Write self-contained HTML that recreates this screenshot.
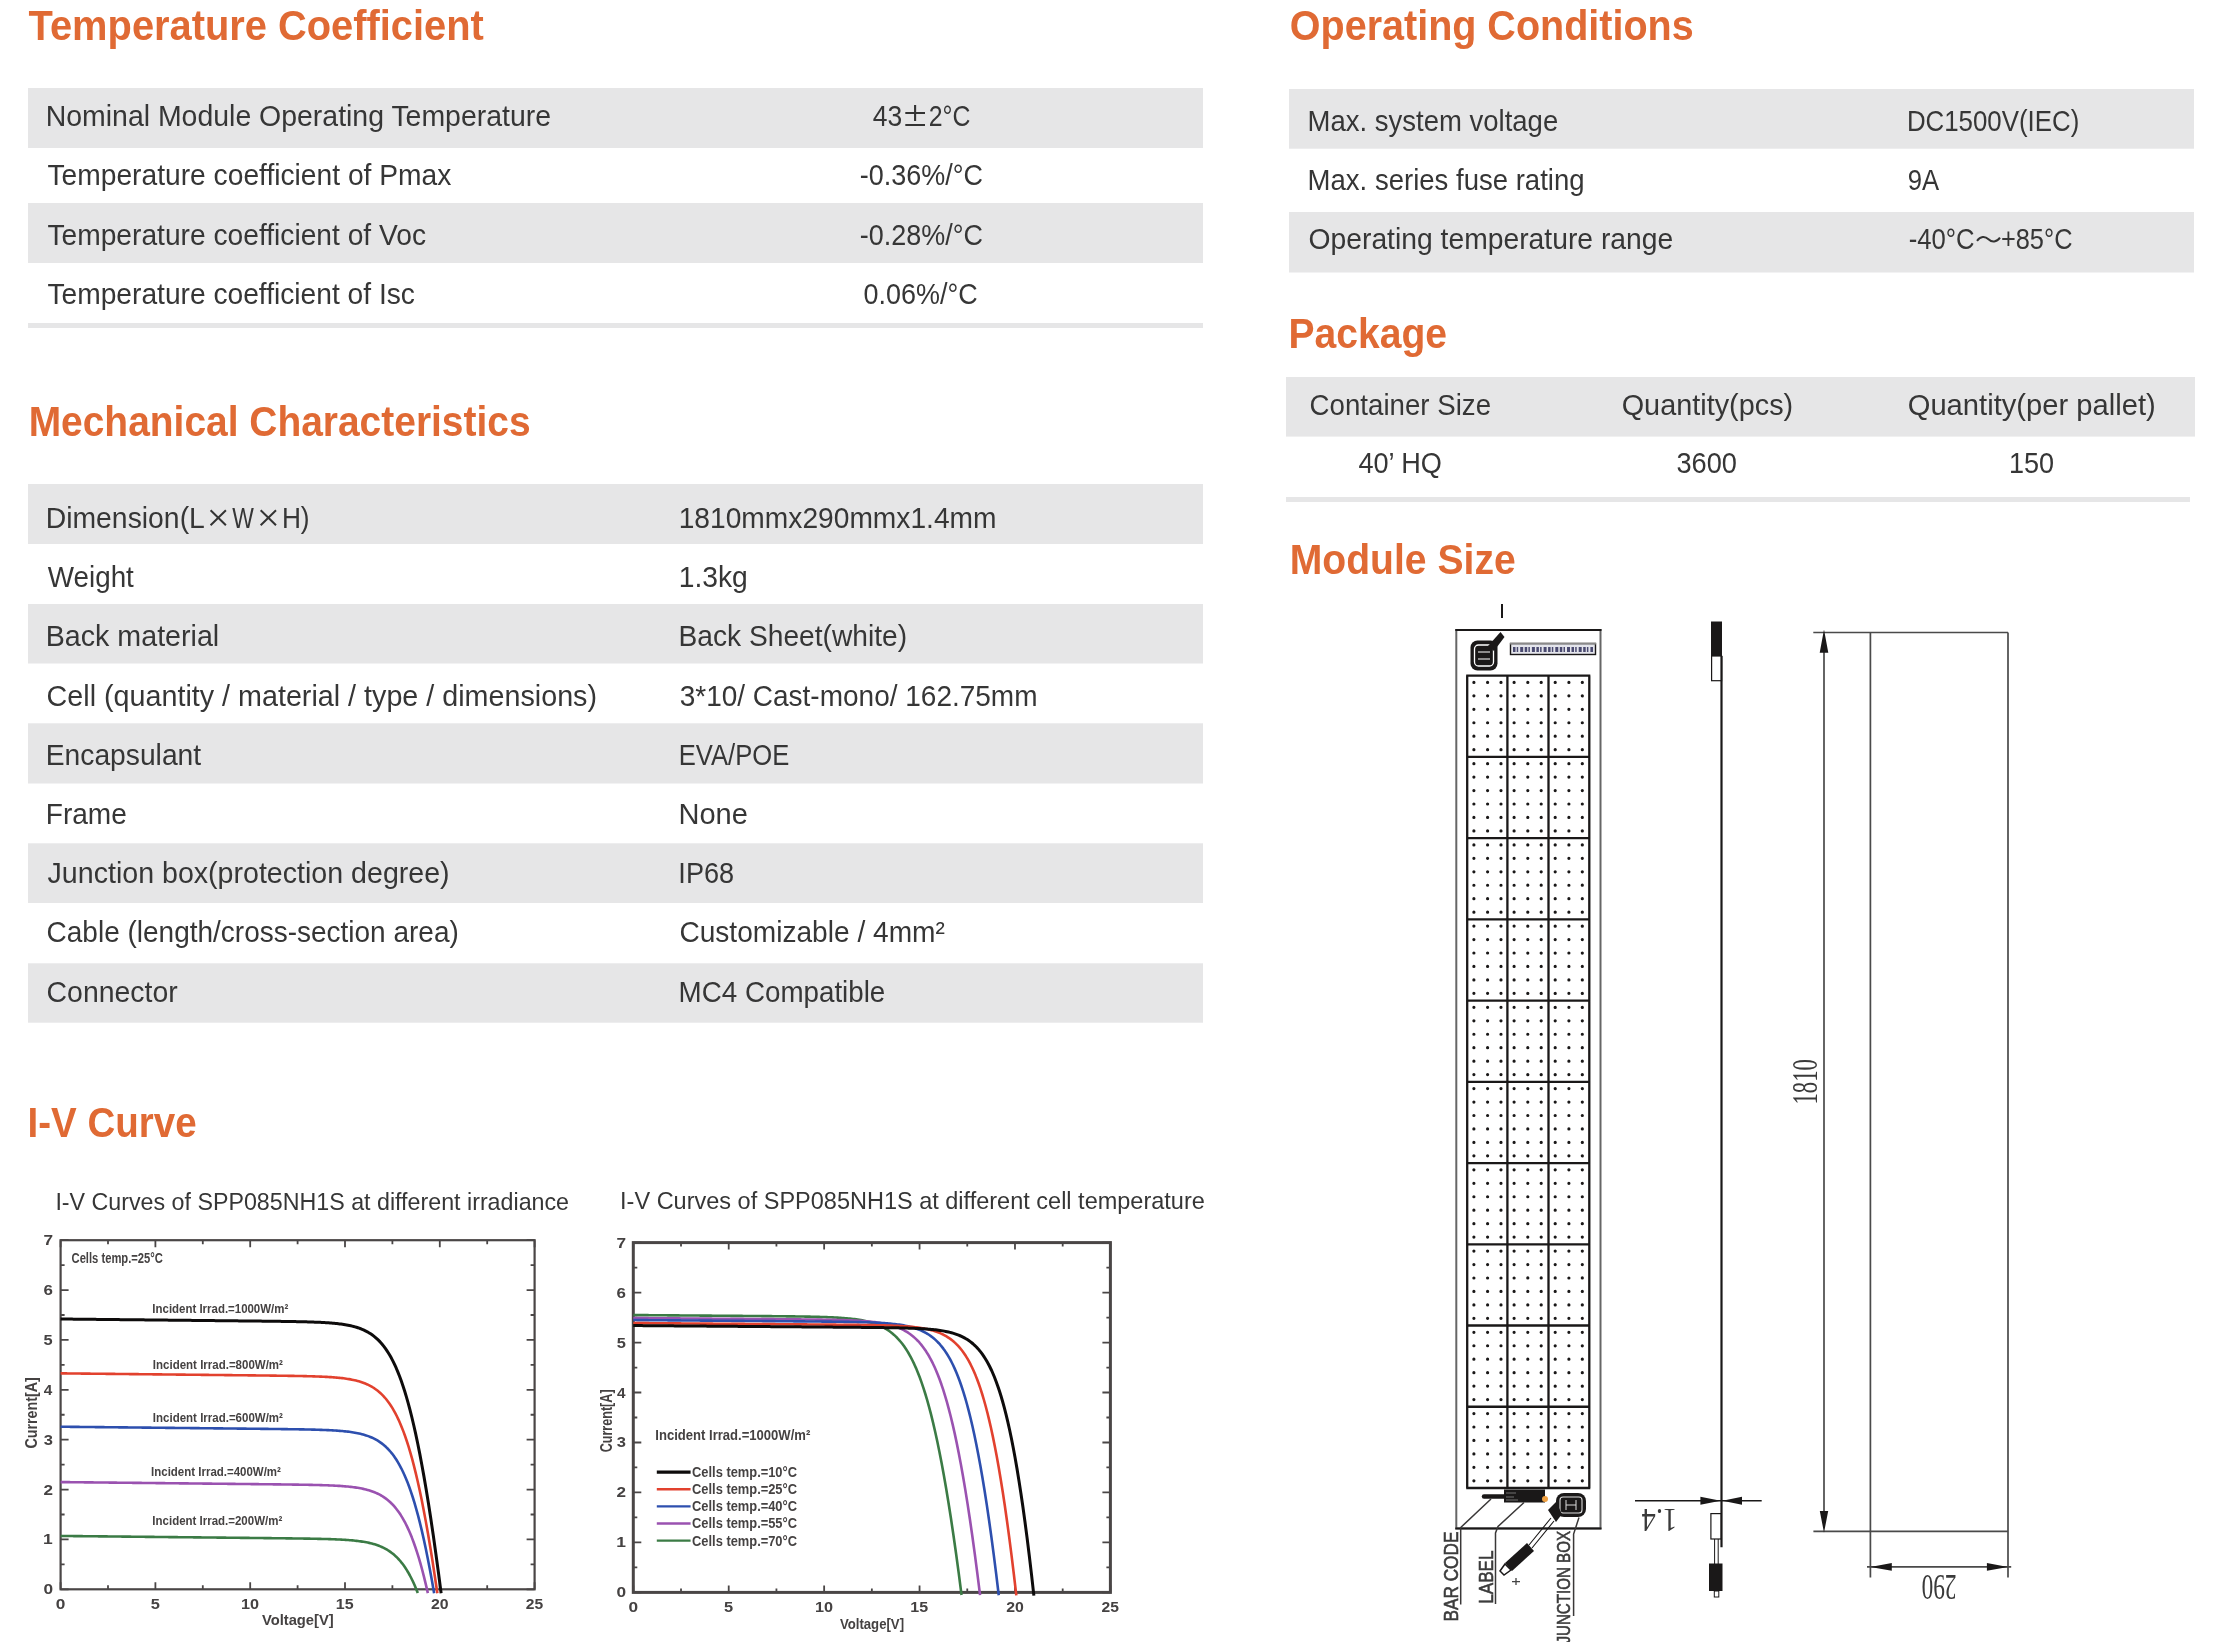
<!DOCTYPE html>
<html><head><meta charset="utf-8"><title>Datasheet</title>
<style>html,body{margin:0;padding:0;background:#fff;width:2222px;height:1642px;overflow:hidden}svg{display:block;will-change:transform}</style>
</head><body>
<svg width="2222" height="1642" viewBox="0 0 2222 1642">
<rect width="2222" height="1642" fill="#fff"/>
<text x="28.60" y="40.00" font-family='"Liberation Sans", sans-serif' font-weight="bold" font-size="42.5" fill="#e06a34" textLength="455.24" lengthAdjust="spacingAndGlyphs">Temperature Coefficient</text>
<text x="28.67" y="436.00" font-family='"Liberation Sans", sans-serif' font-weight="bold" font-size="42.5" fill="#e06a34" textLength="501.90" lengthAdjust="spacingAndGlyphs">Mechanical Characteristics</text>
<text x="27.50" y="1136.50" font-family='"Liberation Sans", sans-serif' font-weight="bold" font-size="42.5" fill="#e06a34" textLength="169.06" lengthAdjust="spacingAndGlyphs">I-V Curve</text>
<text x="1289.82" y="39.90" font-family='"Liberation Sans", sans-serif' font-weight="bold" font-size="42.5" fill="#e06a34" textLength="403.83" lengthAdjust="spacingAndGlyphs">Operating Conditions</text>
<text x="1288.46" y="348.00" font-family='"Liberation Sans", sans-serif' font-weight="bold" font-size="42.5" fill="#e06a34" textLength="158.56" lengthAdjust="spacingAndGlyphs">Package</text>
<text x="1289.76" y="573.50" font-family='"Liberation Sans", sans-serif' font-weight="bold" font-size="42.5" fill="#e06a34" textLength="225.94" lengthAdjust="spacingAndGlyphs">Module Size</text>
<rect x="28.00" y="88.00" width="1175.00" height="60.00" fill="#e6e6e7"/>
<rect x="28.00" y="203.00" width="1175.00" height="60.00" fill="#e6e6e7"/>
<rect x="28.00" y="323.00" width="1175.00" height="5.00" fill="#e6e6e7"/>
<text x="45.72" y="125.80" font-family='"Liberation Sans", sans-serif' font-weight="normal" font-size="29.2" fill="#363636" textLength="505.33" lengthAdjust="spacingAndGlyphs">Nominal Module Operating Temperature</text>
<text x="872.67" y="125.70" font-family='"Liberation Sans", sans-serif' font-weight="normal" font-size="29.2" fill="#363636" textLength="29.45" lengthAdjust="spacingAndGlyphs">43</text>
<path d="M905.3 113H925M915.1 104.9V121M905.3 125H925" stroke="#333" stroke-width="2.1"/>
<text x="928.66" y="125.70" font-family='"Liberation Sans", sans-serif' font-weight="normal" font-size="29.2" fill="#363636" textLength="41.69" lengthAdjust="spacingAndGlyphs">2°C</text>
<text x="47.44" y="185.10" font-family='"Liberation Sans", sans-serif' font-weight="normal" font-size="29.2" fill="#363636" textLength="403.91" lengthAdjust="spacingAndGlyphs">Temperature coefficient of Pmax</text>
<text x="859.79" y="185.10" font-family='"Liberation Sans", sans-serif' font-weight="normal" font-size="29.2" fill="#363636" textLength="123.25" lengthAdjust="spacingAndGlyphs">-0.36%/°C</text>
<text x="47.44" y="244.80" font-family='"Liberation Sans", sans-serif' font-weight="normal" font-size="29.2" fill="#363636" textLength="378.54" lengthAdjust="spacingAndGlyphs">Temperature coefficient of Voc</text>
<text x="859.79" y="244.80" font-family='"Liberation Sans", sans-serif' font-weight="normal" font-size="29.2" fill="#363636" textLength="123.25" lengthAdjust="spacingAndGlyphs">-0.28%/°C</text>
<text x="47.44" y="303.90" font-family='"Liberation Sans", sans-serif' font-weight="normal" font-size="29.2" fill="#363636" textLength="367.53" lengthAdjust="spacingAndGlyphs">Temperature coefficient of Isc</text>
<text x="863.52" y="303.90" font-family='"Liberation Sans", sans-serif' font-weight="normal" font-size="29.2" fill="#363636" textLength="114.13" lengthAdjust="spacingAndGlyphs">0.06%/°C</text>
<rect x="28.00" y="484.00" width="1175.00" height="60.00" fill="#e6e6e7"/>
<rect x="28.00" y="604.00" width="1175.00" height="59.50" fill="#e6e6e7"/>
<rect x="28.00" y="723.30" width="1175.00" height="60.20" fill="#e6e6e7"/>
<rect x="28.00" y="843.30" width="1175.00" height="59.70" fill="#e6e6e7"/>
<rect x="28.00" y="963.30" width="1175.00" height="59.40" fill="#e6e6e7"/>
<text x="45.73" y="528.00" font-family='"Liberation Sans", sans-serif' font-weight="normal" font-size="29.2" fill="#363636" textLength="159.12" lengthAdjust="spacingAndGlyphs">Dimension(L</text>
<text x="232.19" y="528.00" font-family='"Liberation Sans", sans-serif' font-weight="normal" font-size="29.2" fill="#363636" textLength="21.60" lengthAdjust="spacingAndGlyphs">W</text>
<text x="281.90" y="528.00" font-family='"Liberation Sans", sans-serif' font-weight="normal" font-size="29.2" fill="#363636" textLength="27.71" lengthAdjust="spacingAndGlyphs">H)</text>
<path d="M210.6 510.2L225.9 525.2M225.9 510.2L210.6 525.2M260.7 510.2L276 525.2M276 510.2L260.7 525.2" stroke="#333" stroke-width="2"/>
<text x="678.69" y="528.00" font-family='"Liberation Sans", sans-serif' font-weight="normal" font-size="29.2" fill="#363636" textLength="317.85" lengthAdjust="spacingAndGlyphs">1810mmx290mmx1.4mm</text>
<text x="47.86" y="587.20" font-family='"Liberation Sans", sans-serif' font-weight="normal" font-size="29.2" fill="#363636" textLength="86.00" lengthAdjust="spacingAndGlyphs">Weight</text>
<text x="678.68" y="587.20" font-family='"Liberation Sans", sans-serif' font-weight="normal" font-size="29.2" fill="#363636" textLength="69.09" lengthAdjust="spacingAndGlyphs">1.3kg</text>
<text x="45.71" y="646.00" font-family='"Liberation Sans", sans-serif' font-weight="normal" font-size="29.2" fill="#363636" textLength="173.53" lengthAdjust="spacingAndGlyphs">Back material</text>
<text x="678.55" y="646.00" font-family='"Liberation Sans", sans-serif' font-weight="normal" font-size="29.2" fill="#363636" textLength="228.48" lengthAdjust="spacingAndGlyphs">Back Sheet(white)</text>
<text x="46.56" y="705.80" font-family='"Liberation Sans", sans-serif' font-weight="normal" font-size="29.2" fill="#363636" textLength="550.49" lengthAdjust="spacingAndGlyphs">Cell (quantity / material / type / dimensions)</text>
<text x="679.68" y="705.80" font-family='"Liberation Sans", sans-serif' font-weight="normal" font-size="29.2" fill="#363636" textLength="357.82" lengthAdjust="spacingAndGlyphs">3*10/ Cast-mono/ 162.75mm</text>
<text x="45.74" y="765.00" font-family='"Liberation Sans", sans-serif' font-weight="normal" font-size="29.2" fill="#363636" textLength="155.41" lengthAdjust="spacingAndGlyphs">Encapsulant</text>
<text x="678.75" y="765.00" font-family='"Liberation Sans", sans-serif' font-weight="normal" font-size="29.2" fill="#363636" textLength="110.51" lengthAdjust="spacingAndGlyphs">EVA/POE</text>
<text x="45.75" y="824.20" font-family='"Liberation Sans", sans-serif' font-weight="normal" font-size="29.2" fill="#363636" textLength="81.09" lengthAdjust="spacingAndGlyphs">Frame</text>
<text x="678.48" y="824.20" font-family='"Liberation Sans", sans-serif' font-weight="normal" font-size="29.2" fill="#363636" textLength="69.45" lengthAdjust="spacingAndGlyphs">None</text>
<text x="47.57" y="883.10" font-family='"Liberation Sans", sans-serif' font-weight="normal" font-size="29.2" fill="#363636" textLength="402.07" lengthAdjust="spacingAndGlyphs">Junction box(protection degree)</text>
<text x="678.36" y="883.10" font-family='"Liberation Sans", sans-serif' font-weight="normal" font-size="29.2" fill="#363636" textLength="55.78" lengthAdjust="spacingAndGlyphs">IP68</text>
<text x="46.60" y="942.20" font-family='"Liberation Sans", sans-serif' font-weight="normal" font-size="29.2" fill="#363636" textLength="412.20" lengthAdjust="spacingAndGlyphs">Cable (length/cross-section area)</text>
<text x="679.39" y="942.20" font-family='"Liberation Sans", sans-serif' font-weight="normal" font-size="29.2" fill="#363636" textLength="265.48" lengthAdjust="spacingAndGlyphs">Customizable / 4mm²</text>
<text x="46.58" y="1001.70" font-family='"Liberation Sans", sans-serif' font-weight="normal" font-size="29.2" fill="#363636" textLength="131.16" lengthAdjust="spacingAndGlyphs">Connector</text>
<text x="678.58" y="1001.70" font-family='"Liberation Sans", sans-serif' font-weight="normal" font-size="29.2" fill="#363636" textLength="206.74" lengthAdjust="spacingAndGlyphs">MC4 Compatible</text>
<rect x="1289.00" y="89.00" width="905.00" height="59.70" fill="#e6e6e7"/>
<rect x="1289.00" y="212.00" width="905.00" height="60.50" fill="#e6e6e7"/>
<text x="1307.60" y="130.70" font-family='"Liberation Sans", sans-serif' font-weight="normal" font-size="29.2" fill="#363636" textLength="250.62" lengthAdjust="spacingAndGlyphs">Max. system voltage</text>
<text x="1906.93" y="130.70" font-family='"Liberation Sans", sans-serif' font-weight="normal" font-size="29.2" fill="#363636" textLength="172.33" lengthAdjust="spacingAndGlyphs">DC1500V(IEC)</text>
<text x="1307.60" y="189.80" font-family='"Liberation Sans", sans-serif' font-weight="normal" font-size="29.2" fill="#363636" textLength="276.99" lengthAdjust="spacingAndGlyphs">Max. series fuse rating</text>
<text x="1907.84" y="189.80" font-family='"Liberation Sans", sans-serif' font-weight="normal" font-size="29.2" fill="#363636" textLength="31.44" lengthAdjust="spacingAndGlyphs">9A</text>
<text x="1308.53" y="248.50" font-family='"Liberation Sans", sans-serif' font-weight="normal" font-size="29.2" fill="#363636" textLength="364.70" lengthAdjust="spacingAndGlyphs">Operating temperature range</text>
<text x="1908.64" y="248.70" font-family='"Liberation Sans", sans-serif' font-weight="normal" font-size="29.2" fill="#363636" textLength="65.92" lengthAdjust="spacingAndGlyphs">-40°C</text>
<path d="M1977 240.8C1980.5 236 1985 235.8 1988.5 239.2C1992 242.6 1996.5 242.4 2000 237.6" fill="none" stroke="#333" stroke-width="2"/>
<text x="2000.93" y="248.70" font-family='"Liberation Sans", sans-serif' font-weight="normal" font-size="29.2" fill="#363636" textLength="71.54" lengthAdjust="spacingAndGlyphs">+85°C</text>
<rect x="1286.00" y="377.00" width="909.00" height="59.60" fill="#e6e6e7"/>
<rect x="1286.00" y="497.00" width="904.00" height="5.00" fill="#e6e6e7"/>
<text x="1309.62" y="414.70" font-family='"Liberation Sans", sans-serif' font-weight="normal" font-size="29.2" fill="#363636" textLength="181.41" lengthAdjust="spacingAndGlyphs">Container Size</text>
<text x="1621.70" y="414.70" font-family='"Liberation Sans", sans-serif' font-weight="normal" font-size="29.2" fill="#363636" textLength="171.47" lengthAdjust="spacingAndGlyphs">Quantity(pcs)</text>
<text x="1907.69" y="414.70" font-family='"Liberation Sans", sans-serif' font-weight="normal" font-size="29.2" fill="#363636" textLength="248.08" lengthAdjust="spacingAndGlyphs">Quantity(per pallet)</text>
<text x="1358.46" y="473.40" font-family='"Liberation Sans", sans-serif' font-weight="normal" font-size="29.2" fill="#363636" textLength="83.40" lengthAdjust="spacingAndGlyphs">40’ HQ</text>
<text x="1676.41" y="473.40" font-family='"Liberation Sans", sans-serif' font-weight="normal" font-size="29.2" fill="#363636" textLength="60.53" lengthAdjust="spacingAndGlyphs">3600</text>
<text x="2008.97" y="473.40" font-family='"Liberation Sans", sans-serif' font-weight="normal" font-size="29.2" fill="#363636" textLength="45.07" lengthAdjust="spacingAndGlyphs">150</text>
<text x="55.41" y="1209.80" font-family='"Liberation Sans", sans-serif' font-weight="normal" font-size="24.4" fill="#363636" textLength="513.62" lengthAdjust="spacingAndGlyphs">I-V Curves of SPP085NH1S at different irradiance</text>
<text x="620.09" y="1209.40" font-family='"Liberation Sans", sans-serif' font-weight="normal" font-size="24.4" fill="#363636" textLength="584.74" lengthAdjust="spacingAndGlyphs">I-V Curves of SPP085NH1S at different cell temperature</text>
<rect x="60.60" y="1240.20" width="474.00" height="349.10" fill="none" stroke="#4a4646" stroke-width="2.2"/>
<path d="M60.60 1589.30V1582.30M60.60 1240.20V1247.20M108.00 1589.30V1585.30M108.00 1240.20V1244.20M155.40 1589.30V1582.30M155.40 1240.20V1247.20M202.80 1589.30V1585.30M202.80 1240.20V1244.20M250.20 1589.30V1582.30M250.20 1240.20V1247.20M297.60 1589.30V1585.30M297.60 1240.20V1244.20M345.00 1589.30V1582.30M345.00 1240.20V1247.20M392.40 1589.30V1585.30M392.40 1240.20V1244.20M439.80 1589.30V1582.30M439.80 1240.20V1247.20M487.20 1589.30V1585.30M487.20 1240.20V1244.20M534.60 1589.30V1582.30M534.60 1240.20V1247.20M60.60 1589.30H68.60M534.60 1589.30H526.60M60.60 1564.36H64.60M534.60 1564.36H530.60M60.60 1539.43H68.60M534.60 1539.43H526.60M60.60 1514.49H64.60M534.60 1514.49H530.60M60.60 1489.56H68.60M534.60 1489.56H526.60M60.60 1464.62H64.60M534.60 1464.62H530.60M60.60 1439.69H68.60M534.60 1439.69H526.60M60.60 1414.75H64.60M534.60 1414.75H530.60M60.60 1389.81H68.60M534.60 1389.81H526.60M60.60 1364.88H64.60M534.60 1364.88H530.60M60.60 1339.94H68.60M534.60 1339.94H526.60M60.60 1315.01H64.60M534.60 1315.01H530.60M60.60 1290.07H68.60M534.60 1290.07H526.60M60.60 1265.14H64.60M534.60 1265.14H530.60M60.60 1240.20H68.60M534.60 1240.20H526.60" stroke="#4a4646" stroke-width="1.8" fill="none"/>
<path d="M60.60 1535.94L62.80 1535.96L64.18 1535.98L65.56 1535.99L66.94 1536.00L68.32 1536.02L69.70 1536.03L71.08 1536.05L72.45 1536.06L73.83 1536.08L75.21 1536.09L76.59 1536.11L77.97 1536.12L79.35 1536.13L80.73 1536.15L82.10 1536.16L83.48 1536.18L84.86 1536.19L86.24 1536.21L87.62 1536.22L89.00 1536.24L90.38 1536.25L91.76 1536.27L93.13 1536.28L94.51 1536.29L95.89 1536.31L97.27 1536.32L98.65 1536.34L100.03 1536.35L101.41 1536.37L102.78 1536.38L104.16 1536.40L105.54 1536.41L106.92 1536.42L108.30 1536.44L109.68 1536.45L111.06 1536.47L112.43 1536.48L113.81 1536.50L115.19 1536.51L116.57 1536.53L117.95 1536.54L119.33 1536.56L120.71 1536.57L122.09 1536.58L123.46 1536.60L124.84 1536.61L126.22 1536.63L127.60 1536.64L128.98 1536.66L130.36 1536.67L131.74 1536.69L133.11 1536.70L134.49 1536.72L135.87 1536.73L137.25 1536.74L138.63 1536.76L140.01 1536.77L141.39 1536.79L142.76 1536.80L144.14 1536.82L145.52 1536.83L146.90 1536.85L148.28 1536.86L149.66 1536.87L151.04 1536.89L152.42 1536.90L153.79 1536.92L155.17 1536.93L156.55 1536.95L157.93 1536.96L159.31 1536.98L160.69 1536.99L162.07 1537.01L163.44 1537.02L164.82 1537.03L166.20 1537.05L167.58 1537.06L168.96 1537.08L170.34 1537.09L171.72 1537.11L173.10 1537.12L174.47 1537.14L175.85 1537.15L177.23 1537.16L178.61 1537.18L179.99 1537.19L181.37 1537.21L182.75 1537.22L184.12 1537.24L185.50 1537.25L186.88 1537.27L188.26 1537.28L189.64 1537.30L191.02 1537.31L192.40 1537.32L193.77 1537.34L195.15 1537.35L196.53 1537.37L197.91 1537.38L199.29 1537.40L200.67 1537.41L202.05 1537.43L203.43 1537.44L204.80 1537.46L206.18 1537.47L207.56 1537.48L208.94 1537.50L210.32 1537.51L211.70 1537.53L213.08 1537.54L214.45 1537.56L215.83 1537.57L217.21 1537.59L218.59 1537.60L219.97 1537.61L221.35 1537.63L222.73 1537.64L224.10 1537.66L225.48 1537.67L226.86 1537.69L228.24 1537.70L229.62 1537.72L231.00 1537.73L232.38 1537.75L233.76 1537.76L235.13 1537.78L236.51 1537.79L237.89 1537.80L239.27 1537.82L240.65 1537.83L242.03 1537.85L243.41 1537.86L244.78 1537.88L246.16 1537.89L247.54 1537.91L248.92 1537.92L250.30 1537.94L251.68 1537.95L253.06 1537.97L254.44 1537.98L255.81 1538.00L257.19 1538.01L258.57 1538.03L259.95 1538.04L261.33 1538.06L262.71 1538.07L264.09 1538.09L265.46 1538.10L266.84 1538.12L268.22 1538.13L269.60 1538.15L270.98 1538.16L272.36 1538.18L273.74 1538.19L275.12 1538.21L276.49 1538.23L277.87 1538.24L279.25 1538.26L280.63 1538.27L282.01 1538.29L283.39 1538.31L284.77 1538.32L286.15 1538.34L287.52 1538.36L288.90 1538.37L290.28 1538.39L291.66 1538.41L293.04 1538.43L294.42 1538.44L295.80 1538.46L297.18 1538.48L298.56 1538.50L299.93 1538.52L301.31 1538.54L302.69 1538.56L304.07 1538.58L305.45 1538.60L306.83 1538.63L308.21 1538.65L309.59 1538.67L310.97 1538.70L312.35 1538.72L313.73 1538.75L315.11 1538.77L316.49 1538.80L317.86 1538.83L319.24 1538.86L320.62 1538.89L322.00 1538.93L323.38 1538.96L324.76 1539.00L326.14 1539.03L327.52 1539.07L328.90 1539.12L330.29 1539.16L331.67 1539.21L333.05 1539.26L334.43 1539.31L335.81 1539.37L337.19 1539.43L338.57 1539.49L339.95 1539.56L341.34 1539.63L342.72 1539.71L344.10 1539.79L345.49 1539.87L346.87 1539.97L348.25 1540.07L349.64 1540.18L351.02 1540.29L352.41 1540.41L353.80 1540.55L355.18 1540.69L356.57 1540.84L357.96 1541.01L359.35 1541.19L360.74 1541.38L362.13 1541.59L363.52 1541.81L364.91 1542.05L366.31 1542.31L367.70 1542.59L369.10 1542.89L370.50 1543.22L371.90 1543.57L373.30 1543.95L374.71 1544.37L376.11 1544.81L377.52 1545.30L378.93 1545.82L380.35 1546.38L381.77 1546.99L383.19 1547.65L384.61 1548.37L386.04 1549.14L387.47 1549.98L388.91 1550.89L390.35 1551.87L391.79 1552.93L393.25 1554.09L394.70 1555.34L396.17 1556.69L397.64 1558.15L399.12 1559.74L400.61 1561.46L402.11 1563.32L403.62 1565.34L405.14 1567.52L406.67 1569.89L408.21 1572.46L409.77 1575.24L411.34 1578.25L412.93 1581.52L414.53 1585.06L416.16 1588.90L417.81 1593.06" stroke="#3b7b45" stroke-width="2.6" fill="none" stroke-linejoin="round"/>
<path d="M60.60 1482.08L62.48 1482.10L63.86 1482.11L65.24 1482.13L66.61 1482.14L67.99 1482.15L69.37 1482.17L70.75 1482.18L72.13 1482.20L73.51 1482.21L74.89 1482.23L76.26 1482.24L77.64 1482.26L79.02 1482.27L80.40 1482.28L81.78 1482.30L83.16 1482.31L84.54 1482.33L85.92 1482.34L87.29 1482.36L88.67 1482.37L90.05 1482.39L91.43 1482.40L92.81 1482.42L94.19 1482.43L95.57 1482.44L96.94 1482.46L98.32 1482.47L99.70 1482.49L101.08 1482.50L102.46 1482.52L103.84 1482.53L105.22 1482.55L106.59 1482.56L107.97 1482.57L109.35 1482.59L110.73 1482.60L112.11 1482.62L113.49 1482.63L114.87 1482.65L116.25 1482.66L117.62 1482.68L119.00 1482.69L120.38 1482.71L121.76 1482.72L123.14 1482.73L124.52 1482.75L125.90 1482.76L127.27 1482.78L128.65 1482.79L130.03 1482.81L131.41 1482.82L132.79 1482.84L134.17 1482.85L135.55 1482.86L136.92 1482.88L138.30 1482.89L139.68 1482.91L141.06 1482.92L142.44 1482.94L143.82 1482.95L145.20 1482.97L146.58 1482.98L147.95 1483.00L149.33 1483.01L150.71 1483.02L152.09 1483.04L153.47 1483.05L154.85 1483.07L156.23 1483.08L157.60 1483.10L158.98 1483.11L160.36 1483.13L161.74 1483.14L163.12 1483.16L164.50 1483.17L165.88 1483.18L167.26 1483.20L168.63 1483.21L170.01 1483.23L171.39 1483.24L172.77 1483.26L174.15 1483.27L175.53 1483.29L176.91 1483.30L178.28 1483.31L179.66 1483.33L181.04 1483.34L182.42 1483.36L183.80 1483.37L185.18 1483.39L186.56 1483.40L187.93 1483.42L189.31 1483.43L190.69 1483.45L192.07 1483.46L193.45 1483.47L194.83 1483.49L196.21 1483.50L197.59 1483.52L198.96 1483.53L200.34 1483.55L201.72 1483.56L203.10 1483.58L204.48 1483.59L205.86 1483.61L207.24 1483.62L208.61 1483.63L209.99 1483.65L211.37 1483.66L212.75 1483.68L214.13 1483.69L215.51 1483.71L216.89 1483.72L218.26 1483.74L219.64 1483.75L221.02 1483.77L222.40 1483.78L223.78 1483.79L225.16 1483.81L226.54 1483.82L227.92 1483.84L229.29 1483.85L230.67 1483.87L232.05 1483.88L233.43 1483.90L234.81 1483.91L236.19 1483.93L237.57 1483.94L238.94 1483.96L240.32 1483.97L241.70 1483.98L243.08 1484.00L244.46 1484.01L245.84 1484.03L247.22 1484.04L248.60 1484.06L249.97 1484.07L251.35 1484.09L252.73 1484.10L254.11 1484.12L255.49 1484.13L256.87 1484.15L258.25 1484.16L259.62 1484.18L261.00 1484.19L262.38 1484.21L263.76 1484.22L265.14 1484.24L266.52 1484.26L267.90 1484.27L269.28 1484.29L270.65 1484.30L272.03 1484.32L273.41 1484.33L274.79 1484.35L276.17 1484.37L277.55 1484.38L278.93 1484.40L280.31 1484.42L281.68 1484.43L283.06 1484.45L284.44 1484.47L285.82 1484.49L287.20 1484.50L288.58 1484.52L289.96 1484.54L291.34 1484.56L292.72 1484.58L294.09 1484.60L295.47 1484.62L296.85 1484.64L298.23 1484.66L299.61 1484.68L300.99 1484.70L302.37 1484.72L303.75 1484.75L305.13 1484.77L306.51 1484.79L307.89 1484.82L309.27 1484.85L310.64 1484.87L312.02 1484.90L313.40 1484.93L314.78 1484.96L316.16 1485.00L317.54 1485.03L318.92 1485.07L320.30 1485.10L321.68 1485.14L323.06 1485.18L324.44 1485.23L325.83 1485.27L327.21 1485.32L328.59 1485.37L329.97 1485.43L331.35 1485.49L332.73 1485.55L334.11 1485.61L335.50 1485.68L336.88 1485.76L338.26 1485.84L339.64 1485.92L341.03 1486.02L342.41 1486.11L343.80 1486.22L345.18 1486.33L346.57 1486.45L347.95 1486.58L349.34 1486.72L350.73 1486.87L352.12 1487.03L353.50 1487.20L354.89 1487.39L356.28 1487.59L357.68 1487.81L359.07 1488.04L360.46 1488.30L361.86 1488.57L363.26 1488.86L364.65 1489.18L366.05 1489.52L367.45 1489.90L368.86 1490.30L370.26 1490.73L371.67 1491.20L373.08 1491.71L374.50 1492.25L375.91 1492.85L377.33 1493.49L378.75 1494.19L380.18 1494.94L381.61 1495.75L383.04 1496.63L384.48 1497.59L385.93 1498.62L387.38 1499.74L388.83 1500.95L390.30 1502.27L391.77 1503.69L393.24 1505.23L394.73 1506.90L396.22 1508.71L397.73 1510.67L399.24 1512.79L400.77 1515.09L402.31 1517.59L403.86 1520.29L405.43 1523.21L407.01 1526.39L408.61 1529.83L410.23 1533.55L411.87 1537.59L413.53 1541.97L415.21 1546.72L416.92 1551.86L418.66 1557.43L420.43 1563.48L422.23 1570.03L424.06 1577.13L425.94 1584.82L427.86 1593.16" stroke="#9a52b0" stroke-width="2.6" fill="none" stroke-linejoin="round"/>
<path d="M60.60 1426.72L62.40 1426.74L63.78 1426.75L65.16 1426.77L66.54 1426.78L67.91 1426.80L69.29 1426.81L70.67 1426.83L72.05 1426.84L73.43 1426.85L74.81 1426.87L76.19 1426.88L77.57 1426.90L78.94 1426.91L80.32 1426.93L81.70 1426.94L83.08 1426.96L84.46 1426.97L85.84 1426.98L87.22 1427.00L88.59 1427.01L89.97 1427.03L91.35 1427.04L92.73 1427.06L94.11 1427.07L95.49 1427.09L96.87 1427.10L98.24 1427.12L99.62 1427.13L101.00 1427.14L102.38 1427.16L103.76 1427.17L105.14 1427.19L106.52 1427.20L107.90 1427.22L109.27 1427.23L110.65 1427.25L112.03 1427.26L113.41 1427.27L114.79 1427.29L116.17 1427.30L117.55 1427.32L118.92 1427.33L120.30 1427.35L121.68 1427.36L123.06 1427.38L124.44 1427.39L125.82 1427.41L127.20 1427.42L128.57 1427.43L129.95 1427.45L131.33 1427.46L132.71 1427.48L134.09 1427.49L135.47 1427.51L136.85 1427.52L138.23 1427.54L139.60 1427.55L140.98 1427.56L142.36 1427.58L143.74 1427.59L145.12 1427.61L146.50 1427.62L147.88 1427.64L149.25 1427.65L150.63 1427.67L152.01 1427.68L153.39 1427.70L154.77 1427.71L156.15 1427.72L157.53 1427.74L158.91 1427.75L160.28 1427.77L161.66 1427.78L163.04 1427.80L164.42 1427.81L165.80 1427.83L167.18 1427.84L168.56 1427.86L169.93 1427.87L171.31 1427.88L172.69 1427.90L174.07 1427.91L175.45 1427.93L176.83 1427.94L178.21 1427.96L179.58 1427.97L180.96 1427.99L182.34 1428.00L183.72 1428.01L185.10 1428.03L186.48 1428.04L187.86 1428.06L189.24 1428.07L190.61 1428.09L191.99 1428.10L193.37 1428.12L194.75 1428.13L196.13 1428.15L197.51 1428.16L198.89 1428.17L200.26 1428.19L201.64 1428.20L203.02 1428.22L204.40 1428.23L205.78 1428.25L207.16 1428.26L208.54 1428.28L209.91 1428.29L211.29 1428.31L212.67 1428.32L214.05 1428.33L215.43 1428.35L216.81 1428.36L218.19 1428.38L219.57 1428.39L220.94 1428.41L222.32 1428.42L223.70 1428.44L225.08 1428.45L226.46 1428.47L227.84 1428.48L229.22 1428.50L230.59 1428.51L231.97 1428.52L233.35 1428.54L234.73 1428.55L236.11 1428.57L237.49 1428.58L238.87 1428.60L240.25 1428.61L241.62 1428.63L243.00 1428.64L244.38 1428.66L245.76 1428.67L247.14 1428.69L248.52 1428.70L249.90 1428.72L251.27 1428.73L252.65 1428.75L254.03 1428.76L255.41 1428.78L256.79 1428.79L258.17 1428.81L259.55 1428.82L260.93 1428.84L262.30 1428.85L263.68 1428.87L265.06 1428.89L266.44 1428.90L267.82 1428.92L269.20 1428.93L270.58 1428.95L271.96 1428.97L273.33 1428.98L274.71 1429.00L276.09 1429.02L277.47 1429.03L278.85 1429.05L280.23 1429.07L281.61 1429.08L282.99 1429.10L284.36 1429.12L285.74 1429.14L287.12 1429.16L288.50 1429.18L289.88 1429.20L291.26 1429.22L292.64 1429.24L294.02 1429.26L295.40 1429.28L296.78 1429.30L298.15 1429.32L299.53 1429.35L300.91 1429.37L302.29 1429.39L303.67 1429.42L305.05 1429.45L306.43 1429.47L307.81 1429.50L309.19 1429.53L310.57 1429.56L311.95 1429.60L313.33 1429.63L314.71 1429.67L316.09 1429.71L317.47 1429.74L318.85 1429.79L320.23 1429.83L321.61 1429.88L322.99 1429.93L324.37 1429.98L325.75 1430.03L327.14 1430.09L328.52 1430.15L329.90 1430.22L331.28 1430.29L332.66 1430.37L334.05 1430.45L335.43 1430.53L336.81 1430.63L338.20 1430.73L339.58 1430.83L340.97 1430.94L342.35 1431.07L343.74 1431.20L345.13 1431.34L346.51 1431.49L347.90 1431.65L349.29 1431.83L350.68 1432.02L352.07 1432.22L353.46 1432.44L354.86 1432.68L356.25 1432.93L357.65 1433.21L359.04 1433.51L360.44 1433.83L361.84 1434.18L363.24 1434.55L364.65 1434.96L366.05 1435.40L367.46 1435.87L368.87 1436.38L370.29 1436.94L371.70 1437.54L373.12 1438.19L374.55 1438.89L375.97 1439.65L377.40 1440.48L378.84 1441.37L380.28 1442.34L381.73 1443.38L383.18 1444.52L384.63 1445.74L386.10 1447.07L387.57 1448.51L389.05 1450.07L390.53 1451.76L392.03 1453.59L393.53 1455.58L395.05 1457.73L396.58 1460.05L398.12 1462.58L399.67 1465.31L401.24 1468.28L402.83 1471.49L404.43 1474.97L406.05 1478.74L407.69 1482.83L409.36 1487.26L411.05 1492.07L412.76 1497.27L414.50 1502.92L416.27 1509.04L418.08 1515.67L419.92 1522.85L421.80 1530.64L423.73 1539.09L425.70 1548.24L427.71 1558.17L429.79 1568.93L431.92 1580.59L434.11 1593.23" stroke="#2d4fae" stroke-width="2.6" fill="none" stroke-linejoin="round"/>
<path d="M60.60 1373.36L62.17 1373.37L63.55 1373.39L64.93 1373.40L66.31 1373.42L67.69 1373.43L69.07 1373.45L70.45 1373.46L71.82 1373.47L73.20 1373.49L74.58 1373.50L75.96 1373.52L77.34 1373.53L78.72 1373.55L80.10 1373.56L81.48 1373.58L82.85 1373.59L84.23 1373.61L85.61 1373.62L86.99 1373.63L88.37 1373.65L89.75 1373.66L91.13 1373.68L92.50 1373.69L93.88 1373.71L95.26 1373.72L96.64 1373.74L98.02 1373.75L99.40 1373.76L100.78 1373.78L102.16 1373.79L103.53 1373.81L104.91 1373.82L106.29 1373.84L107.67 1373.85L109.05 1373.87L110.43 1373.88L111.81 1373.90L113.18 1373.91L114.56 1373.92L115.94 1373.94L117.32 1373.95L118.70 1373.97L120.08 1373.98L121.46 1374.00L122.83 1374.01L124.21 1374.03L125.59 1374.04L126.97 1374.06L128.35 1374.07L129.73 1374.08L131.11 1374.10L132.49 1374.11L133.86 1374.13L135.24 1374.14L136.62 1374.16L138.00 1374.17L139.38 1374.19L140.76 1374.20L142.14 1374.21L143.51 1374.23L144.89 1374.24L146.27 1374.26L147.65 1374.27L149.03 1374.29L150.41 1374.30L151.79 1374.32L153.16 1374.33L154.54 1374.35L155.92 1374.36L157.30 1374.37L158.68 1374.39L160.06 1374.40L161.44 1374.42L162.82 1374.43L164.19 1374.45L165.57 1374.46L166.95 1374.48L168.33 1374.49L169.71 1374.50L171.09 1374.52L172.47 1374.53L173.84 1374.55L175.22 1374.56L176.60 1374.58L177.98 1374.59L179.36 1374.61L180.74 1374.62L182.12 1374.64L183.49 1374.65L184.87 1374.66L186.25 1374.68L187.63 1374.69L189.01 1374.71L190.39 1374.72L191.77 1374.74L193.15 1374.75L194.52 1374.77L195.90 1374.78L197.28 1374.80L198.66 1374.81L200.04 1374.82L201.42 1374.84L202.80 1374.85L204.17 1374.87L205.55 1374.88L206.93 1374.90L208.31 1374.91L209.69 1374.93L211.07 1374.94L212.45 1374.96L213.83 1374.97L215.20 1374.98L216.58 1375.00L217.96 1375.01L219.34 1375.03L220.72 1375.04L222.10 1375.06L223.48 1375.07L224.85 1375.09L226.23 1375.10L227.61 1375.12L228.99 1375.13L230.37 1375.15L231.75 1375.16L233.13 1375.18L234.50 1375.19L235.88 1375.20L237.26 1375.22L238.64 1375.23L240.02 1375.25L241.40 1375.26L242.78 1375.28L244.16 1375.29L245.53 1375.31L246.91 1375.32L248.29 1375.34L249.67 1375.35L251.05 1375.37L252.43 1375.38L253.81 1375.40L255.19 1375.42L256.56 1375.43L257.94 1375.45L259.32 1375.46L260.70 1375.48L262.08 1375.49L263.46 1375.51L264.84 1375.53L266.21 1375.54L267.59 1375.56L268.97 1375.57L270.35 1375.59L271.73 1375.61L273.11 1375.62L274.49 1375.64L275.87 1375.66L277.25 1375.68L278.62 1375.70L280.00 1375.71L281.38 1375.73L282.76 1375.75L284.14 1375.77L285.52 1375.79L286.90 1375.81L288.28 1375.83L289.66 1375.85L291.04 1375.87L292.41 1375.90L293.79 1375.92L295.17 1375.94L296.55 1375.97L297.93 1375.99L299.31 1376.02L300.69 1376.05L302.07 1376.07L303.45 1376.10L304.83 1376.13L306.21 1376.17L307.59 1376.20L308.97 1376.23L310.35 1376.27L311.73 1376.31L313.11 1376.35L314.49 1376.39L315.87 1376.44L317.25 1376.49L318.63 1376.54L320.01 1376.59L321.39 1376.65L322.78 1376.71L324.16 1376.77L325.54 1376.84L326.92 1376.91L328.31 1376.99L329.69 1377.08L331.07 1377.17L332.46 1377.26L333.84 1377.36L335.22 1377.47L336.61 1377.59L338.00 1377.72L339.38 1377.85L340.77 1378.00L342.16 1378.16L343.55 1378.33L344.94 1378.51L346.33 1378.70L347.72 1378.92L349.11 1379.14L350.50 1379.39L351.90 1379.66L353.29 1379.94L354.69 1380.25L356.09 1380.59L357.49 1380.95L358.90 1381.34L360.30 1381.76L361.71 1382.22L363.12 1382.71L364.53 1383.25L365.94 1383.82L367.36 1384.45L368.78 1385.13L370.21 1385.86L371.64 1386.65L373.07 1387.51L374.51 1388.44L375.95 1389.45L377.40 1390.54L378.85 1391.72L380.31 1393.00L381.78 1394.38L383.26 1395.88L384.74 1397.51L386.23 1399.27L387.73 1401.18L389.24 1403.24L390.76 1405.48L392.30 1407.91L393.85 1410.54L395.41 1413.39L396.99 1416.48L398.58 1419.83L400.19 1423.45L401.82 1427.39L403.48 1431.65L405.15 1436.27L406.85 1441.27L408.58 1446.70L410.34 1452.58L412.13 1458.96L413.95 1465.87L415.81 1473.36L417.72 1481.48L419.66 1490.28L421.66 1499.82L423.70 1510.17L425.80 1521.38L427.97 1533.53L430.20 1546.71L432.50 1560.99L434.87 1576.48L437.34 1593.26" stroke="#e2412e" stroke-width="2.6" fill="none" stroke-linejoin="round"/>
<path d="M60.60 1319.00L62.45 1319.02L63.83 1319.03L65.21 1319.05L66.59 1319.06L67.97 1319.07L69.35 1319.09L70.72 1319.10L72.10 1319.12L73.48 1319.13L74.86 1319.15L76.24 1319.16L77.62 1319.18L79.00 1319.19L80.38 1319.20L81.75 1319.22L83.13 1319.23L84.51 1319.25L85.89 1319.26L87.27 1319.28L88.65 1319.29L90.03 1319.31L91.40 1319.32L92.78 1319.34L94.16 1319.35L95.54 1319.36L96.92 1319.38L98.30 1319.39L99.68 1319.41L101.06 1319.42L102.43 1319.44L103.81 1319.45L105.19 1319.47L106.57 1319.48L107.95 1319.50L109.33 1319.51L110.71 1319.52L112.08 1319.54L113.46 1319.55L114.84 1319.57L116.22 1319.58L117.60 1319.60L118.98 1319.61L120.36 1319.63L121.73 1319.64L123.11 1319.65L124.49 1319.67L125.87 1319.68L127.25 1319.70L128.63 1319.71L130.01 1319.73L131.39 1319.74L132.76 1319.76L134.14 1319.77L135.52 1319.79L136.90 1319.80L138.28 1319.81L139.66 1319.83L141.04 1319.84L142.41 1319.86L143.79 1319.87L145.17 1319.89L146.55 1319.90L147.93 1319.92L149.31 1319.93L150.69 1319.94L152.06 1319.96L153.44 1319.97L154.82 1319.99L156.20 1320.00L157.58 1320.02L158.96 1320.03L160.34 1320.05L161.72 1320.06L163.09 1320.08L164.47 1320.09L165.85 1320.10L167.23 1320.12L168.61 1320.13L169.99 1320.15L171.37 1320.16L172.74 1320.18L174.12 1320.19L175.50 1320.21L176.88 1320.22L178.26 1320.23L179.64 1320.25L181.02 1320.26L182.40 1320.28L183.77 1320.29L185.15 1320.31L186.53 1320.32L187.91 1320.34L189.29 1320.35L190.67 1320.37L192.05 1320.38L193.42 1320.39L194.80 1320.41L196.18 1320.42L197.56 1320.44L198.94 1320.45L200.32 1320.47L201.70 1320.48L203.07 1320.50L204.45 1320.51L205.83 1320.53L207.21 1320.54L208.59 1320.55L209.97 1320.57L211.35 1320.58L212.73 1320.60L214.10 1320.61L215.48 1320.63L216.86 1320.64L218.24 1320.66L219.62 1320.67L221.00 1320.69L222.38 1320.70L223.75 1320.72L225.13 1320.73L226.51 1320.75L227.89 1320.76L229.27 1320.77L230.65 1320.79L232.03 1320.80L233.41 1320.82L234.78 1320.83L236.16 1320.85L237.54 1320.86L238.92 1320.88L240.30 1320.89L241.68 1320.91L243.06 1320.92L244.43 1320.94L245.81 1320.95L247.19 1320.97L248.57 1320.98L249.95 1321.00L251.33 1321.01L252.71 1321.03L254.09 1321.05L255.46 1321.06L256.84 1321.08L258.22 1321.09L259.60 1321.11L260.98 1321.12L262.36 1321.14L263.74 1321.16L265.12 1321.17L266.49 1321.19L267.87 1321.21L269.25 1321.22L270.63 1321.24L272.01 1321.26L273.39 1321.28L274.77 1321.29L276.15 1321.31L277.52 1321.33L278.90 1321.35L280.28 1321.37L281.66 1321.39L283.04 1321.41L284.42 1321.43L285.80 1321.45L287.18 1321.47L288.56 1321.49L289.94 1321.52L291.32 1321.54L292.69 1321.56L294.07 1321.59L295.45 1321.62L296.83 1321.64L298.21 1321.67L299.59 1321.70L300.97 1321.73L302.35 1321.76L303.73 1321.79L305.11 1321.83L306.49 1321.87L307.87 1321.90L309.25 1321.94L310.63 1321.99L312.01 1322.03L313.39 1322.08L314.77 1322.13L316.16 1322.18L317.54 1322.24L318.92 1322.30L320.30 1322.36L321.68 1322.43L323.06 1322.50L324.45 1322.58L325.83 1322.66L327.21 1322.75L328.60 1322.84L329.98 1322.94L331.37 1323.05L332.75 1323.17L334.14 1323.29L335.52 1323.42L336.91 1323.57L338.30 1323.72L339.69 1323.89L341.08 1324.07L342.47 1324.26L343.86 1324.47L345.25 1324.69L346.64 1324.94L348.04 1325.20L349.43 1325.48L350.83 1325.78L352.23 1326.11L353.63 1326.47L355.03 1326.85L356.44 1327.27L357.84 1327.72L359.25 1328.20L360.66 1328.73L362.08 1329.30L363.50 1329.91L364.92 1330.58L366.34 1331.30L367.77 1332.07L369.20 1332.92L370.64 1333.83L372.08 1334.82L373.53 1335.89L374.98 1337.05L376.44 1338.31L377.90 1339.67L379.38 1341.14L380.86 1342.74L382.35 1344.47L383.85 1346.34L385.35 1348.37L386.87 1350.57L388.41 1352.96L389.95 1355.54L391.51 1358.34L393.08 1361.38L394.67 1364.67L396.28 1368.23L397.91 1372.09L399.56 1376.28L401.23 1380.82L402.92 1385.73L404.64 1391.06L406.40 1396.84L408.18 1403.11L409.99 1409.89L411.85 1417.25L413.74 1425.23L415.68 1433.88L417.66 1443.25L419.69 1453.41L421.78 1464.43L423.93 1476.37L426.14 1489.31L428.43 1503.34L430.79 1518.55L433.23 1535.04L435.76 1552.92L438.39 1572.30L441.13 1593.30" stroke="#0d0b0b" stroke-width="3.0" fill="none" stroke-linejoin="round"/>
<rect x="633.30" y="1242.60" width="477.10" height="349.80" fill="none" stroke="#4a4646" stroke-width="3.0"/>
<path d="M633.30 1592.40V1585.40M633.30 1242.60V1249.60M681.01 1592.40V1588.40M681.01 1242.60V1246.60M728.72 1592.40V1585.40M728.72 1242.60V1249.60M776.43 1592.40V1588.40M776.43 1242.60V1246.60M824.14 1592.40V1585.40M824.14 1242.60V1249.60M871.85 1592.40V1588.40M871.85 1242.60V1246.60M919.56 1592.40V1585.40M919.56 1242.60V1249.60M967.27 1592.40V1588.40M967.27 1242.60V1246.60M1014.98 1592.40V1585.40M1014.98 1242.60V1249.60M1062.69 1592.40V1588.40M1062.69 1242.60V1246.60M1110.40 1592.40V1585.40M1110.40 1242.60V1249.60M633.30 1592.40H641.30M1110.40 1592.40H1102.40M633.30 1567.41H637.30M1110.40 1567.41H1106.40M633.30 1542.43H641.30M1110.40 1542.43H1102.40M633.30 1517.44H637.30M1110.40 1517.44H1106.40M633.30 1492.46H641.30M1110.40 1492.46H1102.40M633.30 1467.47H637.30M1110.40 1467.47H1106.40M633.30 1442.49H641.30M1110.40 1442.49H1102.40M633.30 1417.50H637.30M1110.40 1417.50H1106.40M633.30 1392.51H641.30M1110.40 1392.51H1102.40M633.30 1367.53H637.30M1110.40 1367.53H1106.40M633.30 1342.54H641.30M1110.40 1342.54H1102.40M633.30 1317.56H637.30M1110.40 1317.56H1106.40M633.30 1292.57H641.30M1110.40 1292.57H1102.40M633.30 1267.59H637.30M1110.40 1267.59H1106.40M633.30 1242.60H641.30M1110.40 1242.60H1102.40" stroke="#4a4646" stroke-width="1.8" fill="none"/>
<path d="M633.30 1315.06L635.54 1315.08L637.08 1315.09L638.62 1315.10L640.16 1315.11L641.70 1315.12L643.24 1315.14L644.79 1315.15L646.33 1315.16L647.87 1315.17L649.41 1315.19L650.95 1315.20L652.50 1315.21L654.04 1315.22L655.58 1315.23L657.12 1315.25L658.66 1315.26L660.20 1315.27L661.75 1315.28L663.29 1315.29L664.83 1315.31L666.37 1315.32L667.91 1315.33L669.46 1315.34L671.00 1315.35L672.54 1315.37L674.08 1315.38L675.62 1315.39L677.16 1315.40L678.71 1315.42L680.25 1315.43L681.79 1315.44L683.33 1315.45L684.87 1315.46L686.42 1315.48L687.96 1315.49L689.50 1315.50L691.04 1315.51L692.58 1315.52L694.13 1315.54L695.67 1315.55L697.21 1315.56L698.75 1315.57L700.29 1315.59L701.83 1315.60L703.38 1315.61L704.92 1315.62L706.46 1315.63L708.00 1315.65L709.54 1315.66L711.09 1315.67L712.63 1315.68L714.17 1315.70L715.71 1315.71L717.25 1315.72L718.79 1315.73L720.34 1315.74L721.88 1315.76L723.42 1315.77L724.96 1315.78L726.50 1315.79L728.05 1315.81L729.59 1315.82L731.13 1315.83L732.67 1315.84L734.21 1315.86L735.76 1315.87L737.30 1315.88L738.84 1315.89L740.38 1315.91L741.92 1315.92L743.46 1315.93L745.01 1315.94L746.55 1315.96L748.09 1315.97L749.63 1315.98L751.17 1316.00L752.72 1316.01L754.26 1316.02L755.80 1316.03L757.34 1316.05L758.88 1316.06L760.43 1316.07L761.97 1316.09L763.51 1316.10L765.05 1316.12L766.59 1316.13L768.14 1316.14L769.68 1316.16L771.22 1316.17L772.76 1316.19L774.30 1316.20L775.84 1316.22L777.39 1316.23L778.93 1316.25L780.47 1316.26L782.01 1316.28L783.56 1316.30L785.10 1316.31L786.64 1316.33L788.18 1316.35L789.72 1316.37L791.27 1316.39L792.81 1316.40L794.35 1316.42L795.89 1316.45L797.44 1316.47L798.98 1316.49L800.52 1316.51L802.06 1316.54L803.61 1316.56L805.15 1316.59L806.69 1316.61L808.23 1316.64L809.78 1316.67L811.32 1316.70L812.86 1316.74L814.41 1316.77L815.95 1316.81L817.49 1316.84L819.04 1316.89L820.58 1316.93L822.12 1316.97L823.67 1317.02L825.21 1317.07L826.76 1317.13L828.30 1317.19L829.84 1317.25L831.39 1317.32L832.94 1317.39L834.48 1317.46L836.03 1317.55L837.57 1317.63L839.12 1317.73L840.67 1317.83L842.21 1317.94L843.76 1318.05L845.31 1318.18L846.86 1318.31L848.41 1318.46L849.96 1318.61L851.51 1318.78L853.06 1318.96L854.61 1319.16L856.17 1319.37L857.72 1319.59L859.28 1319.84L860.83 1320.11L862.39 1320.39L863.95 1320.70L865.51 1321.04L867.07 1321.40L868.64 1321.79L870.20 1322.21L871.77 1322.67L873.34 1323.17L874.91 1323.70L876.49 1324.28L878.06 1324.91L879.65 1325.59L881.23 1326.32L882.82 1327.12L884.41 1327.98L886.00 1328.92L887.60 1329.93L889.21 1331.03L890.82 1332.21L892.43 1333.50L894.06 1334.89L895.68 1336.40L897.32 1338.04L898.96 1339.81L900.62 1341.73L902.28 1343.81L903.95 1346.06L905.63 1348.51L907.33 1351.15L909.04 1354.02L910.76 1357.13L912.49 1360.50L914.25 1364.16L916.02 1368.12L917.81 1372.41L919.62 1377.06L921.45 1382.10L923.31 1387.57L925.20 1393.49L927.11 1399.91L929.05 1406.87L931.03 1414.42L933.05 1422.60L935.11 1431.47L937.20 1441.08L939.35 1451.50L941.55 1462.80L943.80 1475.04L946.11 1488.32L948.49 1502.71L950.93 1518.31L953.45 1535.22L956.06 1553.55L958.75 1573.43L961.54 1594.98" stroke="#3b7b45" stroke-width="2.6" fill="none" stroke-linejoin="round"/>
<path d="M633.30 1318.06L635.78 1318.08L637.29 1318.09L638.80 1318.10L640.31 1318.11L641.82 1318.12L643.33 1318.14L644.85 1318.15L646.36 1318.16L647.87 1318.17L649.38 1318.18L650.89 1318.20L652.40 1318.21L653.91 1318.22L655.42 1318.23L656.93 1318.24L658.44 1318.25L659.96 1318.27L661.47 1318.28L662.98 1318.29L664.49 1318.30L666.00 1318.31L667.51 1318.33L669.02 1318.34L670.53 1318.35L672.04 1318.36L673.55 1318.37L675.07 1318.38L676.58 1318.40L678.09 1318.41L679.60 1318.42L681.11 1318.43L682.62 1318.44L684.13 1318.46L685.64 1318.47L687.15 1318.48L688.66 1318.49L690.18 1318.50L691.69 1318.52L693.20 1318.53L694.71 1318.54L696.22 1318.55L697.73 1318.56L699.24 1318.58L700.75 1318.59L702.26 1318.60L703.77 1318.61L705.29 1318.62L706.80 1318.63L708.31 1318.65L709.82 1318.66L711.33 1318.67L712.84 1318.68L714.35 1318.69L715.86 1318.71L717.37 1318.72L718.88 1318.73L720.40 1318.74L721.91 1318.75L723.42 1318.77L724.93 1318.78L726.44 1318.79L727.95 1318.80L729.46 1318.81L730.97 1318.83L732.48 1318.84L733.99 1318.85L735.51 1318.86L737.02 1318.87L738.53 1318.88L740.04 1318.90L741.55 1318.91L743.06 1318.92L744.57 1318.93L746.08 1318.95L747.59 1318.96L749.10 1318.97L750.62 1318.98L752.13 1318.99L753.64 1319.01L755.15 1319.02L756.66 1319.03L758.17 1319.04L759.68 1319.05L761.19 1319.07L762.70 1319.08L764.22 1319.09L765.73 1319.10L767.24 1319.12L768.75 1319.13L770.26 1319.14L771.77 1319.15L773.28 1319.17L774.79 1319.18L776.30 1319.19L777.81 1319.20L779.33 1319.22L780.84 1319.23L782.35 1319.24L783.86 1319.26L785.37 1319.27L786.88 1319.28L788.39 1319.30L789.90 1319.31L791.41 1319.32L792.93 1319.34L794.44 1319.35L795.95 1319.37L797.46 1319.38L798.97 1319.40L800.48 1319.41L801.99 1319.43L803.50 1319.44L805.01 1319.46L806.53 1319.47L808.04 1319.49L809.55 1319.51L811.06 1319.53L812.57 1319.54L814.08 1319.56L815.59 1319.58L817.11 1319.60L818.62 1319.62L820.13 1319.64L821.64 1319.66L823.15 1319.69L824.66 1319.71L826.17 1319.73L827.69 1319.76L829.20 1319.79L830.71 1319.81L832.22 1319.84L833.73 1319.87L835.25 1319.91L836.76 1319.94L838.27 1319.98L839.78 1320.01L841.30 1320.05L842.81 1320.10L844.32 1320.14L845.83 1320.19L847.35 1320.24L848.86 1320.30L850.37 1320.35L851.89 1320.41L853.40 1320.48L854.92 1320.55L856.43 1320.63L857.95 1320.71L859.46 1320.79L860.98 1320.89L862.49 1320.99L864.01 1321.09L865.52 1321.21L867.04 1321.33L868.56 1321.46L870.08 1321.61L871.60 1321.76L873.12 1321.93L874.64 1322.11L876.16 1322.30L877.68 1322.51L879.20 1322.73L880.72 1322.97L882.25 1323.24L883.77 1323.52L885.30 1323.83L886.83 1324.16L888.36 1324.52L889.89 1324.90L891.42 1325.32L892.96 1325.77L894.50 1326.26L896.03 1326.79L897.58 1327.37L899.12 1327.99L900.67 1328.66L902.22 1329.39L903.77 1330.17L905.33 1331.03L906.89 1331.95L908.45 1332.95L910.02 1334.04L911.59 1335.21L913.17 1336.48L914.76 1337.86L916.35 1339.35L917.95 1340.97L919.55 1342.72L921.17 1344.62L922.79 1346.68L924.42 1348.91L926.06 1351.33L927.71 1353.94L929.38 1356.78L931.05 1359.86L932.75 1363.19L934.45 1366.81L936.17 1370.72L937.92 1374.97L939.67 1379.57L941.46 1384.56L943.26 1389.96L945.09 1395.82L946.94 1402.17L948.83 1409.06L950.74 1416.52L952.69 1424.62L954.68 1433.39L956.70 1442.89L958.77 1453.20L960.89 1464.38L963.05 1476.49L965.28 1489.62L967.56 1503.85L969.90 1519.28L972.32 1536.01L974.81 1554.15L977.39 1573.81L980.06 1595.12" stroke="#9a52b0" stroke-width="2.6" fill="none" stroke-linejoin="round"/>
<path d="M633.30 1320.06L635.61 1320.07L637.09 1320.09L638.57 1320.10L640.05 1320.11L641.53 1320.12L643.01 1320.13L644.49 1320.14L645.97 1320.16L647.45 1320.17L648.93 1320.18L650.41 1320.19L651.89 1320.20L653.37 1320.21L654.85 1320.22L656.33 1320.24L657.81 1320.25L659.29 1320.26L660.77 1320.27L662.25 1320.28L663.73 1320.29L665.21 1320.31L666.69 1320.32L668.17 1320.33L669.65 1320.34L671.13 1320.35L672.61 1320.36L674.09 1320.38L675.57 1320.39L677.05 1320.40L678.53 1320.41L680.01 1320.42L681.49 1320.43L682.97 1320.45L684.45 1320.46L685.93 1320.47L687.41 1320.48L688.89 1320.49L690.37 1320.50L691.85 1320.52L693.33 1320.53L694.81 1320.54L696.29 1320.55L697.77 1320.56L699.25 1320.57L700.73 1320.59L702.21 1320.60L703.69 1320.61L705.17 1320.62L706.65 1320.63L708.13 1320.64L709.61 1320.66L711.09 1320.67L712.57 1320.68L714.05 1320.69L715.53 1320.70L717.01 1320.71L718.50 1320.73L719.98 1320.74L721.46 1320.75L722.94 1320.76L724.42 1320.77L725.90 1320.78L727.38 1320.79L728.86 1320.81L730.34 1320.82L731.82 1320.83L733.30 1320.84L734.78 1320.85L736.26 1320.86L737.74 1320.88L739.22 1320.89L740.70 1320.90L742.18 1320.91L743.66 1320.92L745.14 1320.93L746.62 1320.95L748.10 1320.96L749.58 1320.97L751.06 1320.98L752.54 1320.99L754.02 1321.00L755.50 1321.02L756.98 1321.03L758.46 1321.04L759.94 1321.05L761.42 1321.06L762.90 1321.08L764.38 1321.09L765.86 1321.10L767.34 1321.11L768.82 1321.12L770.30 1321.13L771.78 1321.15L773.26 1321.16L774.74 1321.17L776.22 1321.18L777.70 1321.19L779.18 1321.21L780.66 1321.22L782.14 1321.23L783.62 1321.24L785.10 1321.25L786.58 1321.27L788.06 1321.28L789.54 1321.29L791.02 1321.30L792.50 1321.31L793.98 1321.33L795.46 1321.34L796.94 1321.35L798.42 1321.36L799.90 1321.38L801.39 1321.39L802.87 1321.40L804.35 1321.41L805.83 1321.43L807.31 1321.44L808.79 1321.45L810.27 1321.47L811.75 1321.48L813.23 1321.49L814.71 1321.51L816.19 1321.52L817.67 1321.53L819.15 1321.55L820.63 1321.56L822.11 1321.58L823.59 1321.59L825.07 1321.61L826.55 1321.62L828.03 1321.64L829.51 1321.65L830.99 1321.67L832.47 1321.69L833.95 1321.70L835.43 1321.72L836.91 1321.74L838.39 1321.76L839.87 1321.78L841.35 1321.80L842.84 1321.82L844.32 1321.84L845.80 1321.86L847.28 1321.89L848.76 1321.91L850.24 1321.93L851.72 1321.96L853.20 1321.99L854.68 1322.02L856.16 1322.05L857.64 1322.08L859.13 1322.11L860.61 1322.15L862.09 1322.19L863.57 1322.23L865.05 1322.27L866.53 1322.31L868.02 1322.36L869.50 1322.41L870.98 1322.46L872.46 1322.52L873.95 1322.58L875.43 1322.65L876.91 1322.72L878.39 1322.79L879.88 1322.87L881.36 1322.96L882.85 1323.05L884.33 1323.15L885.82 1323.25L887.30 1323.37L888.79 1323.49L890.27 1323.62L891.76 1323.76L893.25 1323.92L894.74 1324.08L896.22 1324.26L897.71 1324.45L899.20 1324.66L900.69 1324.88L902.19 1325.12L903.68 1325.38L905.17 1325.66L906.67 1325.97L908.16 1326.29L909.66 1326.65L911.16 1327.03L912.66 1327.45L914.16 1327.90L915.67 1328.38L917.17 1328.91L918.68 1329.48L920.19 1330.09L921.71 1330.76L923.22 1331.48L924.74 1332.27L926.27 1333.11L927.79 1334.03L929.32 1335.02L930.86 1336.10L932.39 1337.26L933.94 1338.53L935.49 1339.89L937.04 1341.37L938.60 1342.98L940.17 1344.72L941.75 1346.60L943.33 1348.65L944.92 1350.86L946.52 1353.26L948.13 1355.86L949.76 1358.68L951.39 1361.73L953.04 1365.04L954.70 1368.63L956.38 1372.51L958.07 1376.73L959.78 1381.30L961.51 1386.25L963.27 1391.61L965.04 1397.43L966.84 1403.74L968.67 1410.57L970.52 1417.98L972.41 1426.01L974.33 1434.72L976.29 1444.16L978.29 1454.39L980.33 1465.48L982.42 1477.50L984.56 1490.54L986.76 1504.67L989.02 1519.99L991.34 1536.59L993.73 1554.60L996.20 1574.11L998.76 1595.27" stroke="#2d4fae" stroke-width="2.6" fill="none" stroke-linejoin="round"/>
<path d="M633.30 1323.05L635.43 1323.07L636.88 1323.08L638.33 1323.09L639.78 1323.10L641.23 1323.12L642.68 1323.13L644.13 1323.14L645.58 1323.15L647.03 1323.16L648.47 1323.17L649.92 1323.18L651.37 1323.20L652.82 1323.21L654.27 1323.22L655.72 1323.23L657.17 1323.24L658.62 1323.25L660.07 1323.26L661.52 1323.28L662.97 1323.29L664.42 1323.30L665.87 1323.31L667.32 1323.32L668.77 1323.33L670.21 1323.34L671.66 1323.36L673.11 1323.37L674.56 1323.38L676.01 1323.39L677.46 1323.40L678.91 1323.41L680.36 1323.42L681.81 1323.44L683.26 1323.45L684.71 1323.46L686.16 1323.47L687.61 1323.48L689.06 1323.49L690.51 1323.50L691.95 1323.51L693.40 1323.53L694.85 1323.54L696.30 1323.55L697.75 1323.56L699.20 1323.57L700.65 1323.58L702.10 1323.59L703.55 1323.61L705.00 1323.62L706.45 1323.63L707.90 1323.64L709.35 1323.65L710.80 1323.66L712.25 1323.67L713.69 1323.69L715.14 1323.70L716.59 1323.71L718.04 1323.72L719.49 1323.73L720.94 1323.74L722.39 1323.75L723.84 1323.77L725.29 1323.78L726.74 1323.79L728.19 1323.80L729.64 1323.81L731.09 1323.82L732.54 1323.83L733.99 1323.85L735.43 1323.86L736.88 1323.87L738.33 1323.88L739.78 1323.89L741.23 1323.90L742.68 1323.91L744.13 1323.92L745.58 1323.94L747.03 1323.95L748.48 1323.96L749.93 1323.97L751.38 1323.98L752.83 1323.99L754.28 1324.00L755.73 1324.02L757.17 1324.03L758.62 1324.04L760.07 1324.05L761.52 1324.06L762.97 1324.07L764.42 1324.08L765.87 1324.10L767.32 1324.11L768.77 1324.12L770.22 1324.13L771.67 1324.14L773.12 1324.15L774.57 1324.16L776.02 1324.18L777.47 1324.19L778.91 1324.20L780.36 1324.21L781.81 1324.22L783.26 1324.23L784.71 1324.24L786.16 1324.26L787.61 1324.27L789.06 1324.28L790.51 1324.29L791.96 1324.30L793.41 1324.31L794.86 1324.33L796.31 1324.34L797.76 1324.35L799.21 1324.36L800.65 1324.37L802.10 1324.38L803.55 1324.40L805.00 1324.41L806.45 1324.42L807.90 1324.43L809.35 1324.44L810.80 1324.45L812.25 1324.47L813.70 1324.48L815.15 1324.49L816.60 1324.50L818.05 1324.51L819.50 1324.53L820.95 1324.54L822.39 1324.55L823.84 1324.56L825.29 1324.58L826.74 1324.59L828.19 1324.60L829.64 1324.61L831.09 1324.63L832.54 1324.64L833.99 1324.65L835.44 1324.66L836.89 1324.68L838.34 1324.69L839.79 1324.71L841.24 1324.72L842.69 1324.73L844.14 1324.75L845.59 1324.76L847.04 1324.78L848.48 1324.79L849.93 1324.81L851.38 1324.82L852.83 1324.84L854.28 1324.86L855.73 1324.87L857.18 1324.89L858.63 1324.91L860.08 1324.93L861.53 1324.94L862.98 1324.96L864.43 1324.98L865.88 1325.01L867.33 1325.03L868.78 1325.05L870.23 1325.07L871.68 1325.10L873.13 1325.13L874.58 1325.15L876.03 1325.18L877.48 1325.21L878.93 1325.24L880.38 1325.28L881.83 1325.31L883.28 1325.35L884.73 1325.39L886.18 1325.43L887.63 1325.47L889.09 1325.52L890.54 1325.57L891.99 1325.62L893.44 1325.68L894.89 1325.74L896.34 1325.80L897.79 1325.87L899.25 1325.94L900.70 1326.02L902.15 1326.11L903.61 1326.20L905.06 1326.30L906.51 1326.40L907.97 1326.51L909.42 1326.63L910.88 1326.76L912.33 1326.90L913.79 1327.06L915.24 1327.22L916.70 1327.39L918.16 1327.58L919.62 1327.79L921.08 1328.01L922.54 1328.25L924.00 1328.50L925.46 1328.78L926.92 1329.08L928.39 1329.41L929.85 1329.76L931.32 1330.14L932.79 1330.55L934.26 1330.99L935.73 1331.47L937.20 1331.99L938.68 1332.55L940.15 1333.16L941.63 1333.82L943.12 1334.54L944.60 1335.31L946.09 1336.15L947.58 1337.05L949.08 1338.04L950.58 1339.10L952.08 1340.25L953.59 1341.50L955.10 1342.85L956.62 1344.32L958.14 1345.91L959.67 1347.63L961.21 1349.49L962.76 1351.51L964.31 1353.70L965.87 1356.07L967.44 1358.64L969.02 1361.43L970.61 1364.45L972.22 1367.72L973.83 1371.27L975.46 1375.11L977.11 1379.28L978.77 1383.80L980.45 1388.69L982.15 1394.00L983.87 1399.75L985.62 1405.99L987.39 1412.75L989.18 1420.08L991.01 1428.02L992.86 1436.63L994.75 1445.96L996.68 1456.08L998.65 1467.05L1000.66 1478.94L1002.72 1491.83L1004.83 1505.81L1007.00 1520.96L1009.22 1537.38L1011.51 1555.18L1013.88 1574.48L1016.32 1595.41" stroke="#e2412e" stroke-width="2.6" fill="none" stroke-linejoin="round"/>
<path d="M633.30 1325.55L634.90 1325.57L636.32 1325.58L637.74 1325.59L639.16 1325.60L640.58 1325.61L642.00 1325.62L643.42 1325.63L644.83 1325.64L646.25 1325.65L647.67 1325.67L649.09 1325.68L650.51 1325.69L651.93 1325.70L653.34 1325.71L654.76 1325.72L656.18 1325.73L657.60 1325.74L659.02 1325.75L660.44 1325.77L661.86 1325.78L663.27 1325.79L664.69 1325.80L666.11 1325.81L667.53 1325.82L668.95 1325.83L670.37 1325.84L671.79 1325.85L673.20 1325.87L674.62 1325.88L676.04 1325.89L677.46 1325.90L678.88 1325.91L680.30 1325.92L681.71 1325.93L683.13 1325.94L684.55 1325.96L685.97 1325.97L687.39 1325.98L688.81 1325.99L690.23 1326.00L691.64 1326.01L693.06 1326.02L694.48 1326.03L695.90 1326.04L697.32 1326.06L698.74 1326.07L700.16 1326.08L701.57 1326.09L702.99 1326.10L704.41 1326.11L705.83 1326.12L707.25 1326.13L708.67 1326.14L710.08 1326.16L711.50 1326.17L712.92 1326.18L714.34 1326.19L715.76 1326.20L717.18 1326.21L718.60 1326.22L720.01 1326.23L721.43 1326.24L722.85 1326.26L724.27 1326.27L725.69 1326.28L727.11 1326.29L728.53 1326.30L729.94 1326.31L731.36 1326.32L732.78 1326.33L734.20 1326.35L735.62 1326.36L737.04 1326.37L738.45 1326.38L739.87 1326.39L741.29 1326.40L742.71 1326.41L744.13 1326.42L745.55 1326.43L746.97 1326.45L748.38 1326.46L749.80 1326.47L751.22 1326.48L752.64 1326.49L754.06 1326.50L755.48 1326.51L756.89 1326.52L758.31 1326.53L759.73 1326.55L761.15 1326.56L762.57 1326.57L763.99 1326.58L765.41 1326.59L766.82 1326.60L768.24 1326.61L769.66 1326.62L771.08 1326.64L772.50 1326.65L773.92 1326.66L775.34 1326.67L776.75 1326.68L778.17 1326.69L779.59 1326.70L781.01 1326.71L782.43 1326.72L783.85 1326.74L785.26 1326.75L786.68 1326.76L788.10 1326.77L789.52 1326.78L790.94 1326.79L792.36 1326.80L793.78 1326.81L795.19 1326.82L796.61 1326.84L798.03 1326.85L799.45 1326.86L800.87 1326.87L802.29 1326.88L803.71 1326.89L805.12 1326.90L806.54 1326.91L807.96 1326.93L809.38 1326.94L810.80 1326.95L812.22 1326.96L813.63 1326.97L815.05 1326.98L816.47 1326.99L817.89 1327.00L819.31 1327.02L820.73 1327.03L822.15 1327.04L823.56 1327.05L824.98 1327.06L826.40 1327.07L827.82 1327.08L829.24 1327.10L830.66 1327.11L832.08 1327.12L833.49 1327.13L834.91 1327.14L836.33 1327.15L837.75 1327.17L839.17 1327.18L840.59 1327.19L842.01 1327.20L843.42 1327.21L844.84 1327.23L846.26 1327.24L847.68 1327.25L849.10 1327.26L850.52 1327.27L851.93 1327.29L853.35 1327.30L854.77 1327.31L856.19 1327.32L857.61 1327.34L859.03 1327.35L860.45 1327.36L861.86 1327.38L863.28 1327.39L864.70 1327.40L866.12 1327.42L867.54 1327.43L868.96 1327.45L870.38 1327.46L871.80 1327.48L873.21 1327.49L874.63 1327.51L876.05 1327.52L877.47 1327.54L878.89 1327.56L880.31 1327.58L881.73 1327.59L883.15 1327.61L884.56 1327.63L885.98 1327.65L887.40 1327.67L888.82 1327.69L890.24 1327.72L891.66 1327.74L893.08 1327.76L894.50 1327.79L895.92 1327.82L897.34 1327.84L898.75 1327.87L900.17 1327.91L901.59 1327.94L903.01 1327.97L904.43 1328.01L905.85 1328.05L907.27 1328.09L908.69 1328.13L910.11 1328.18L911.53 1328.23L912.95 1328.28L914.37 1328.34L915.79 1328.39L917.21 1328.46L918.64 1328.53L920.06 1328.60L921.48 1328.68L922.90 1328.76L924.32 1328.85L925.74 1328.95L927.17 1329.05L928.59 1329.16L930.01 1329.28L931.44 1329.41L932.86 1329.55L934.29 1329.70L935.71 1329.86L937.14 1330.03L938.56 1330.22L939.99 1330.42L941.42 1330.64L942.84 1330.88L944.27 1331.13L945.70 1331.41L947.14 1331.70L948.57 1332.03L950.00 1332.37L951.44 1332.75L952.87 1333.16L954.31 1333.60L955.75 1334.07L957.19 1334.59L958.63 1335.14L960.07 1335.75L961.52 1336.40L962.97 1337.11L964.42 1337.87L965.88 1338.70L967.33 1339.60L968.79 1340.57L970.26 1341.63L971.73 1342.77L973.20 1344.01L974.68 1345.35L976.16 1346.80L977.65 1348.37L979.14 1350.07L980.64 1351.92L982.14 1353.92L983.66 1356.09L985.18 1358.44L986.71 1360.99L988.25 1363.75L989.80 1366.74L991.36 1369.98L992.93 1373.49L994.51 1377.30L996.11 1381.43L997.73 1385.91L999.36 1390.76L1001.01 1396.01L1002.68 1401.71L1004.36 1407.89L1006.08 1414.59L1007.81 1421.85L1009.58 1429.72L1011.37 1438.25L1013.19 1447.49L1015.05 1457.52L1016.95 1468.38L1018.88 1480.16L1020.86 1492.93L1022.89 1506.78L1024.96 1521.79L1027.10 1538.06L1029.29 1555.70L1031.55 1574.82L1033.87 1595.55" stroke="#0d0b0b" stroke-width="3.0" fill="none" stroke-linejoin="round"/>
<path d="M1502 604V618" stroke="#1a1818" stroke-width="2"/>
<rect x="1456.3" y="630" width="144.2" height="898.4" fill="none" stroke="#666" stroke-width="2"/>
<path d="M1455.3 630H1601.5M1455.3 1528.4H1601.5" stroke="#1a1818" stroke-width="2"/>
<path d="M1467.20 675.60V1488.00M1507.40 675.60V1488.00M1548.50 675.60V1488.00M1589.30 675.60V1488.00M1466.20 675.60H1590.30M1466.20 756.84H1590.30M1466.20 838.08H1590.30M1466.20 919.32H1590.30M1466.20 1000.56H1590.30M1466.20 1081.80H1590.30M1466.20 1163.04H1590.30M1466.20 1244.28H1590.30M1466.20 1325.52H1590.30M1466.20 1406.76H1590.30M1466.20 1488.00H1590.30" stroke="#1a1818" stroke-width="2.3" fill="none"/>
<path d="M1472.30 682.40a1.6 1.6 0 1 0 3.2 0a1.6 1.6 0 1 0 -3.2 0M1472.30 695.85a1.6 1.6 0 1 0 3.2 0a1.6 1.6 0 1 0 -3.2 0M1472.30 709.30a1.6 1.6 0 1 0 3.2 0a1.6 1.6 0 1 0 -3.2 0M1472.30 722.75a1.6 1.6 0 1 0 3.2 0a1.6 1.6 0 1 0 -3.2 0M1472.30 736.20a1.6 1.6 0 1 0 3.2 0a1.6 1.6 0 1 0 -3.2 0M1472.30 749.65a1.6 1.6 0 1 0 3.2 0a1.6 1.6 0 1 0 -3.2 0M1486.00 682.40a1.6 1.6 0 1 0 3.2 0a1.6 1.6 0 1 0 -3.2 0M1486.00 695.85a1.6 1.6 0 1 0 3.2 0a1.6 1.6 0 1 0 -3.2 0M1486.00 709.30a1.6 1.6 0 1 0 3.2 0a1.6 1.6 0 1 0 -3.2 0M1486.00 722.75a1.6 1.6 0 1 0 3.2 0a1.6 1.6 0 1 0 -3.2 0M1486.00 736.20a1.6 1.6 0 1 0 3.2 0a1.6 1.6 0 1 0 -3.2 0M1486.00 749.65a1.6 1.6 0 1 0 3.2 0a1.6 1.6 0 1 0 -3.2 0M1499.40 682.40a1.6 1.6 0 1 0 3.2 0a1.6 1.6 0 1 0 -3.2 0M1499.40 695.85a1.6 1.6 0 1 0 3.2 0a1.6 1.6 0 1 0 -3.2 0M1499.40 709.30a1.6 1.6 0 1 0 3.2 0a1.6 1.6 0 1 0 -3.2 0M1499.40 722.75a1.6 1.6 0 1 0 3.2 0a1.6 1.6 0 1 0 -3.2 0M1499.40 736.20a1.6 1.6 0 1 0 3.2 0a1.6 1.6 0 1 0 -3.2 0M1499.40 749.65a1.6 1.6 0 1 0 3.2 0a1.6 1.6 0 1 0 -3.2 0M1512.50 682.40a1.6 1.6 0 1 0 3.2 0a1.6 1.6 0 1 0 -3.2 0M1512.50 695.85a1.6 1.6 0 1 0 3.2 0a1.6 1.6 0 1 0 -3.2 0M1512.50 709.30a1.6 1.6 0 1 0 3.2 0a1.6 1.6 0 1 0 -3.2 0M1512.50 722.75a1.6 1.6 0 1 0 3.2 0a1.6 1.6 0 1 0 -3.2 0M1512.50 736.20a1.6 1.6 0 1 0 3.2 0a1.6 1.6 0 1 0 -3.2 0M1512.50 749.65a1.6 1.6 0 1 0 3.2 0a1.6 1.6 0 1 0 -3.2 0M1526.20 682.40a1.6 1.6 0 1 0 3.2 0a1.6 1.6 0 1 0 -3.2 0M1526.20 695.85a1.6 1.6 0 1 0 3.2 0a1.6 1.6 0 1 0 -3.2 0M1526.20 709.30a1.6 1.6 0 1 0 3.2 0a1.6 1.6 0 1 0 -3.2 0M1526.20 722.75a1.6 1.6 0 1 0 3.2 0a1.6 1.6 0 1 0 -3.2 0M1526.20 736.20a1.6 1.6 0 1 0 3.2 0a1.6 1.6 0 1 0 -3.2 0M1526.20 749.65a1.6 1.6 0 1 0 3.2 0a1.6 1.6 0 1 0 -3.2 0M1539.60 682.40a1.6 1.6 0 1 0 3.2 0a1.6 1.6 0 1 0 -3.2 0M1539.60 695.85a1.6 1.6 0 1 0 3.2 0a1.6 1.6 0 1 0 -3.2 0M1539.60 709.30a1.6 1.6 0 1 0 3.2 0a1.6 1.6 0 1 0 -3.2 0M1539.60 722.75a1.6 1.6 0 1 0 3.2 0a1.6 1.6 0 1 0 -3.2 0M1539.60 736.20a1.6 1.6 0 1 0 3.2 0a1.6 1.6 0 1 0 -3.2 0M1539.60 749.65a1.6 1.6 0 1 0 3.2 0a1.6 1.6 0 1 0 -3.2 0M1553.60 682.40a1.6 1.6 0 1 0 3.2 0a1.6 1.6 0 1 0 -3.2 0M1553.60 695.85a1.6 1.6 0 1 0 3.2 0a1.6 1.6 0 1 0 -3.2 0M1553.60 709.30a1.6 1.6 0 1 0 3.2 0a1.6 1.6 0 1 0 -3.2 0M1553.60 722.75a1.6 1.6 0 1 0 3.2 0a1.6 1.6 0 1 0 -3.2 0M1553.60 736.20a1.6 1.6 0 1 0 3.2 0a1.6 1.6 0 1 0 -3.2 0M1553.60 749.65a1.6 1.6 0 1 0 3.2 0a1.6 1.6 0 1 0 -3.2 0M1567.30 682.40a1.6 1.6 0 1 0 3.2 0a1.6 1.6 0 1 0 -3.2 0M1567.30 695.85a1.6 1.6 0 1 0 3.2 0a1.6 1.6 0 1 0 -3.2 0M1567.30 709.30a1.6 1.6 0 1 0 3.2 0a1.6 1.6 0 1 0 -3.2 0M1567.30 722.75a1.6 1.6 0 1 0 3.2 0a1.6 1.6 0 1 0 -3.2 0M1567.30 736.20a1.6 1.6 0 1 0 3.2 0a1.6 1.6 0 1 0 -3.2 0M1567.30 749.65a1.6 1.6 0 1 0 3.2 0a1.6 1.6 0 1 0 -3.2 0M1580.70 682.40a1.6 1.6 0 1 0 3.2 0a1.6 1.6 0 1 0 -3.2 0M1580.70 695.85a1.6 1.6 0 1 0 3.2 0a1.6 1.6 0 1 0 -3.2 0M1580.70 709.30a1.6 1.6 0 1 0 3.2 0a1.6 1.6 0 1 0 -3.2 0M1580.70 722.75a1.6 1.6 0 1 0 3.2 0a1.6 1.6 0 1 0 -3.2 0M1580.70 736.20a1.6 1.6 0 1 0 3.2 0a1.6 1.6 0 1 0 -3.2 0M1580.70 749.65a1.6 1.6 0 1 0 3.2 0a1.6 1.6 0 1 0 -3.2 0M1472.30 763.64a1.6 1.6 0 1 0 3.2 0a1.6 1.6 0 1 0 -3.2 0M1472.30 777.09a1.6 1.6 0 1 0 3.2 0a1.6 1.6 0 1 0 -3.2 0M1472.30 790.54a1.6 1.6 0 1 0 3.2 0a1.6 1.6 0 1 0 -3.2 0M1472.30 803.99a1.6 1.6 0 1 0 3.2 0a1.6 1.6 0 1 0 -3.2 0M1472.30 817.44a1.6 1.6 0 1 0 3.2 0a1.6 1.6 0 1 0 -3.2 0M1472.30 830.89a1.6 1.6 0 1 0 3.2 0a1.6 1.6 0 1 0 -3.2 0M1486.00 763.64a1.6 1.6 0 1 0 3.2 0a1.6 1.6 0 1 0 -3.2 0M1486.00 777.09a1.6 1.6 0 1 0 3.2 0a1.6 1.6 0 1 0 -3.2 0M1486.00 790.54a1.6 1.6 0 1 0 3.2 0a1.6 1.6 0 1 0 -3.2 0M1486.00 803.99a1.6 1.6 0 1 0 3.2 0a1.6 1.6 0 1 0 -3.2 0M1486.00 817.44a1.6 1.6 0 1 0 3.2 0a1.6 1.6 0 1 0 -3.2 0M1486.00 830.89a1.6 1.6 0 1 0 3.2 0a1.6 1.6 0 1 0 -3.2 0M1499.40 763.64a1.6 1.6 0 1 0 3.2 0a1.6 1.6 0 1 0 -3.2 0M1499.40 777.09a1.6 1.6 0 1 0 3.2 0a1.6 1.6 0 1 0 -3.2 0M1499.40 790.54a1.6 1.6 0 1 0 3.2 0a1.6 1.6 0 1 0 -3.2 0M1499.40 803.99a1.6 1.6 0 1 0 3.2 0a1.6 1.6 0 1 0 -3.2 0M1499.40 817.44a1.6 1.6 0 1 0 3.2 0a1.6 1.6 0 1 0 -3.2 0M1499.40 830.89a1.6 1.6 0 1 0 3.2 0a1.6 1.6 0 1 0 -3.2 0M1512.50 763.64a1.6 1.6 0 1 0 3.2 0a1.6 1.6 0 1 0 -3.2 0M1512.50 777.09a1.6 1.6 0 1 0 3.2 0a1.6 1.6 0 1 0 -3.2 0M1512.50 790.54a1.6 1.6 0 1 0 3.2 0a1.6 1.6 0 1 0 -3.2 0M1512.50 803.99a1.6 1.6 0 1 0 3.2 0a1.6 1.6 0 1 0 -3.2 0M1512.50 817.44a1.6 1.6 0 1 0 3.2 0a1.6 1.6 0 1 0 -3.2 0M1512.50 830.89a1.6 1.6 0 1 0 3.2 0a1.6 1.6 0 1 0 -3.2 0M1526.20 763.64a1.6 1.6 0 1 0 3.2 0a1.6 1.6 0 1 0 -3.2 0M1526.20 777.09a1.6 1.6 0 1 0 3.2 0a1.6 1.6 0 1 0 -3.2 0M1526.20 790.54a1.6 1.6 0 1 0 3.2 0a1.6 1.6 0 1 0 -3.2 0M1526.20 803.99a1.6 1.6 0 1 0 3.2 0a1.6 1.6 0 1 0 -3.2 0M1526.20 817.44a1.6 1.6 0 1 0 3.2 0a1.6 1.6 0 1 0 -3.2 0M1526.20 830.89a1.6 1.6 0 1 0 3.2 0a1.6 1.6 0 1 0 -3.2 0M1539.60 763.64a1.6 1.6 0 1 0 3.2 0a1.6 1.6 0 1 0 -3.2 0M1539.60 777.09a1.6 1.6 0 1 0 3.2 0a1.6 1.6 0 1 0 -3.2 0M1539.60 790.54a1.6 1.6 0 1 0 3.2 0a1.6 1.6 0 1 0 -3.2 0M1539.60 803.99a1.6 1.6 0 1 0 3.2 0a1.6 1.6 0 1 0 -3.2 0M1539.60 817.44a1.6 1.6 0 1 0 3.2 0a1.6 1.6 0 1 0 -3.2 0M1539.60 830.89a1.6 1.6 0 1 0 3.2 0a1.6 1.6 0 1 0 -3.2 0M1553.60 763.64a1.6 1.6 0 1 0 3.2 0a1.6 1.6 0 1 0 -3.2 0M1553.60 777.09a1.6 1.6 0 1 0 3.2 0a1.6 1.6 0 1 0 -3.2 0M1553.60 790.54a1.6 1.6 0 1 0 3.2 0a1.6 1.6 0 1 0 -3.2 0M1553.60 803.99a1.6 1.6 0 1 0 3.2 0a1.6 1.6 0 1 0 -3.2 0M1553.60 817.44a1.6 1.6 0 1 0 3.2 0a1.6 1.6 0 1 0 -3.2 0M1553.60 830.89a1.6 1.6 0 1 0 3.2 0a1.6 1.6 0 1 0 -3.2 0M1567.30 763.64a1.6 1.6 0 1 0 3.2 0a1.6 1.6 0 1 0 -3.2 0M1567.30 777.09a1.6 1.6 0 1 0 3.2 0a1.6 1.6 0 1 0 -3.2 0M1567.30 790.54a1.6 1.6 0 1 0 3.2 0a1.6 1.6 0 1 0 -3.2 0M1567.30 803.99a1.6 1.6 0 1 0 3.2 0a1.6 1.6 0 1 0 -3.2 0M1567.30 817.44a1.6 1.6 0 1 0 3.2 0a1.6 1.6 0 1 0 -3.2 0M1567.30 830.89a1.6 1.6 0 1 0 3.2 0a1.6 1.6 0 1 0 -3.2 0M1580.70 763.64a1.6 1.6 0 1 0 3.2 0a1.6 1.6 0 1 0 -3.2 0M1580.70 777.09a1.6 1.6 0 1 0 3.2 0a1.6 1.6 0 1 0 -3.2 0M1580.70 790.54a1.6 1.6 0 1 0 3.2 0a1.6 1.6 0 1 0 -3.2 0M1580.70 803.99a1.6 1.6 0 1 0 3.2 0a1.6 1.6 0 1 0 -3.2 0M1580.70 817.44a1.6 1.6 0 1 0 3.2 0a1.6 1.6 0 1 0 -3.2 0M1580.70 830.89a1.6 1.6 0 1 0 3.2 0a1.6 1.6 0 1 0 -3.2 0M1472.30 844.88a1.6 1.6 0 1 0 3.2 0a1.6 1.6 0 1 0 -3.2 0M1472.30 858.33a1.6 1.6 0 1 0 3.2 0a1.6 1.6 0 1 0 -3.2 0M1472.30 871.78a1.6 1.6 0 1 0 3.2 0a1.6 1.6 0 1 0 -3.2 0M1472.30 885.23a1.6 1.6 0 1 0 3.2 0a1.6 1.6 0 1 0 -3.2 0M1472.30 898.68a1.6 1.6 0 1 0 3.2 0a1.6 1.6 0 1 0 -3.2 0M1472.30 912.13a1.6 1.6 0 1 0 3.2 0a1.6 1.6 0 1 0 -3.2 0M1486.00 844.88a1.6 1.6 0 1 0 3.2 0a1.6 1.6 0 1 0 -3.2 0M1486.00 858.33a1.6 1.6 0 1 0 3.2 0a1.6 1.6 0 1 0 -3.2 0M1486.00 871.78a1.6 1.6 0 1 0 3.2 0a1.6 1.6 0 1 0 -3.2 0M1486.00 885.23a1.6 1.6 0 1 0 3.2 0a1.6 1.6 0 1 0 -3.2 0M1486.00 898.68a1.6 1.6 0 1 0 3.2 0a1.6 1.6 0 1 0 -3.2 0M1486.00 912.13a1.6 1.6 0 1 0 3.2 0a1.6 1.6 0 1 0 -3.2 0M1499.40 844.88a1.6 1.6 0 1 0 3.2 0a1.6 1.6 0 1 0 -3.2 0M1499.40 858.33a1.6 1.6 0 1 0 3.2 0a1.6 1.6 0 1 0 -3.2 0M1499.40 871.78a1.6 1.6 0 1 0 3.2 0a1.6 1.6 0 1 0 -3.2 0M1499.40 885.23a1.6 1.6 0 1 0 3.2 0a1.6 1.6 0 1 0 -3.2 0M1499.40 898.68a1.6 1.6 0 1 0 3.2 0a1.6 1.6 0 1 0 -3.2 0M1499.40 912.13a1.6 1.6 0 1 0 3.2 0a1.6 1.6 0 1 0 -3.2 0M1512.50 844.88a1.6 1.6 0 1 0 3.2 0a1.6 1.6 0 1 0 -3.2 0M1512.50 858.33a1.6 1.6 0 1 0 3.2 0a1.6 1.6 0 1 0 -3.2 0M1512.50 871.78a1.6 1.6 0 1 0 3.2 0a1.6 1.6 0 1 0 -3.2 0M1512.50 885.23a1.6 1.6 0 1 0 3.2 0a1.6 1.6 0 1 0 -3.2 0M1512.50 898.68a1.6 1.6 0 1 0 3.2 0a1.6 1.6 0 1 0 -3.2 0M1512.50 912.13a1.6 1.6 0 1 0 3.2 0a1.6 1.6 0 1 0 -3.2 0M1526.20 844.88a1.6 1.6 0 1 0 3.2 0a1.6 1.6 0 1 0 -3.2 0M1526.20 858.33a1.6 1.6 0 1 0 3.2 0a1.6 1.6 0 1 0 -3.2 0M1526.20 871.78a1.6 1.6 0 1 0 3.2 0a1.6 1.6 0 1 0 -3.2 0M1526.20 885.23a1.6 1.6 0 1 0 3.2 0a1.6 1.6 0 1 0 -3.2 0M1526.20 898.68a1.6 1.6 0 1 0 3.2 0a1.6 1.6 0 1 0 -3.2 0M1526.20 912.13a1.6 1.6 0 1 0 3.2 0a1.6 1.6 0 1 0 -3.2 0M1539.60 844.88a1.6 1.6 0 1 0 3.2 0a1.6 1.6 0 1 0 -3.2 0M1539.60 858.33a1.6 1.6 0 1 0 3.2 0a1.6 1.6 0 1 0 -3.2 0M1539.60 871.78a1.6 1.6 0 1 0 3.2 0a1.6 1.6 0 1 0 -3.2 0M1539.60 885.23a1.6 1.6 0 1 0 3.2 0a1.6 1.6 0 1 0 -3.2 0M1539.60 898.68a1.6 1.6 0 1 0 3.2 0a1.6 1.6 0 1 0 -3.2 0M1539.60 912.13a1.6 1.6 0 1 0 3.2 0a1.6 1.6 0 1 0 -3.2 0M1553.60 844.88a1.6 1.6 0 1 0 3.2 0a1.6 1.6 0 1 0 -3.2 0M1553.60 858.33a1.6 1.6 0 1 0 3.2 0a1.6 1.6 0 1 0 -3.2 0M1553.60 871.78a1.6 1.6 0 1 0 3.2 0a1.6 1.6 0 1 0 -3.2 0M1553.60 885.23a1.6 1.6 0 1 0 3.2 0a1.6 1.6 0 1 0 -3.2 0M1553.60 898.68a1.6 1.6 0 1 0 3.2 0a1.6 1.6 0 1 0 -3.2 0M1553.60 912.13a1.6 1.6 0 1 0 3.2 0a1.6 1.6 0 1 0 -3.2 0M1567.30 844.88a1.6 1.6 0 1 0 3.2 0a1.6 1.6 0 1 0 -3.2 0M1567.30 858.33a1.6 1.6 0 1 0 3.2 0a1.6 1.6 0 1 0 -3.2 0M1567.30 871.78a1.6 1.6 0 1 0 3.2 0a1.6 1.6 0 1 0 -3.2 0M1567.30 885.23a1.6 1.6 0 1 0 3.2 0a1.6 1.6 0 1 0 -3.2 0M1567.30 898.68a1.6 1.6 0 1 0 3.2 0a1.6 1.6 0 1 0 -3.2 0M1567.30 912.13a1.6 1.6 0 1 0 3.2 0a1.6 1.6 0 1 0 -3.2 0M1580.70 844.88a1.6 1.6 0 1 0 3.2 0a1.6 1.6 0 1 0 -3.2 0M1580.70 858.33a1.6 1.6 0 1 0 3.2 0a1.6 1.6 0 1 0 -3.2 0M1580.70 871.78a1.6 1.6 0 1 0 3.2 0a1.6 1.6 0 1 0 -3.2 0M1580.70 885.23a1.6 1.6 0 1 0 3.2 0a1.6 1.6 0 1 0 -3.2 0M1580.70 898.68a1.6 1.6 0 1 0 3.2 0a1.6 1.6 0 1 0 -3.2 0M1580.70 912.13a1.6 1.6 0 1 0 3.2 0a1.6 1.6 0 1 0 -3.2 0M1472.30 926.12a1.6 1.6 0 1 0 3.2 0a1.6 1.6 0 1 0 -3.2 0M1472.30 939.57a1.6 1.6 0 1 0 3.2 0a1.6 1.6 0 1 0 -3.2 0M1472.30 953.02a1.6 1.6 0 1 0 3.2 0a1.6 1.6 0 1 0 -3.2 0M1472.30 966.47a1.6 1.6 0 1 0 3.2 0a1.6 1.6 0 1 0 -3.2 0M1472.30 979.92a1.6 1.6 0 1 0 3.2 0a1.6 1.6 0 1 0 -3.2 0M1472.30 993.37a1.6 1.6 0 1 0 3.2 0a1.6 1.6 0 1 0 -3.2 0M1486.00 926.12a1.6 1.6 0 1 0 3.2 0a1.6 1.6 0 1 0 -3.2 0M1486.00 939.57a1.6 1.6 0 1 0 3.2 0a1.6 1.6 0 1 0 -3.2 0M1486.00 953.02a1.6 1.6 0 1 0 3.2 0a1.6 1.6 0 1 0 -3.2 0M1486.00 966.47a1.6 1.6 0 1 0 3.2 0a1.6 1.6 0 1 0 -3.2 0M1486.00 979.92a1.6 1.6 0 1 0 3.2 0a1.6 1.6 0 1 0 -3.2 0M1486.00 993.37a1.6 1.6 0 1 0 3.2 0a1.6 1.6 0 1 0 -3.2 0M1499.40 926.12a1.6 1.6 0 1 0 3.2 0a1.6 1.6 0 1 0 -3.2 0M1499.40 939.57a1.6 1.6 0 1 0 3.2 0a1.6 1.6 0 1 0 -3.2 0M1499.40 953.02a1.6 1.6 0 1 0 3.2 0a1.6 1.6 0 1 0 -3.2 0M1499.40 966.47a1.6 1.6 0 1 0 3.2 0a1.6 1.6 0 1 0 -3.2 0M1499.40 979.92a1.6 1.6 0 1 0 3.2 0a1.6 1.6 0 1 0 -3.2 0M1499.40 993.37a1.6 1.6 0 1 0 3.2 0a1.6 1.6 0 1 0 -3.2 0M1512.50 926.12a1.6 1.6 0 1 0 3.2 0a1.6 1.6 0 1 0 -3.2 0M1512.50 939.57a1.6 1.6 0 1 0 3.2 0a1.6 1.6 0 1 0 -3.2 0M1512.50 953.02a1.6 1.6 0 1 0 3.2 0a1.6 1.6 0 1 0 -3.2 0M1512.50 966.47a1.6 1.6 0 1 0 3.2 0a1.6 1.6 0 1 0 -3.2 0M1512.50 979.92a1.6 1.6 0 1 0 3.2 0a1.6 1.6 0 1 0 -3.2 0M1512.50 993.37a1.6 1.6 0 1 0 3.2 0a1.6 1.6 0 1 0 -3.2 0M1526.20 926.12a1.6 1.6 0 1 0 3.2 0a1.6 1.6 0 1 0 -3.2 0M1526.20 939.57a1.6 1.6 0 1 0 3.2 0a1.6 1.6 0 1 0 -3.2 0M1526.20 953.02a1.6 1.6 0 1 0 3.2 0a1.6 1.6 0 1 0 -3.2 0M1526.20 966.47a1.6 1.6 0 1 0 3.2 0a1.6 1.6 0 1 0 -3.2 0M1526.20 979.92a1.6 1.6 0 1 0 3.2 0a1.6 1.6 0 1 0 -3.2 0M1526.20 993.37a1.6 1.6 0 1 0 3.2 0a1.6 1.6 0 1 0 -3.2 0M1539.60 926.12a1.6 1.6 0 1 0 3.2 0a1.6 1.6 0 1 0 -3.2 0M1539.60 939.57a1.6 1.6 0 1 0 3.2 0a1.6 1.6 0 1 0 -3.2 0M1539.60 953.02a1.6 1.6 0 1 0 3.2 0a1.6 1.6 0 1 0 -3.2 0M1539.60 966.47a1.6 1.6 0 1 0 3.2 0a1.6 1.6 0 1 0 -3.2 0M1539.60 979.92a1.6 1.6 0 1 0 3.2 0a1.6 1.6 0 1 0 -3.2 0M1539.60 993.37a1.6 1.6 0 1 0 3.2 0a1.6 1.6 0 1 0 -3.2 0M1553.60 926.12a1.6 1.6 0 1 0 3.2 0a1.6 1.6 0 1 0 -3.2 0M1553.60 939.57a1.6 1.6 0 1 0 3.2 0a1.6 1.6 0 1 0 -3.2 0M1553.60 953.02a1.6 1.6 0 1 0 3.2 0a1.6 1.6 0 1 0 -3.2 0M1553.60 966.47a1.6 1.6 0 1 0 3.2 0a1.6 1.6 0 1 0 -3.2 0M1553.60 979.92a1.6 1.6 0 1 0 3.2 0a1.6 1.6 0 1 0 -3.2 0M1553.60 993.37a1.6 1.6 0 1 0 3.2 0a1.6 1.6 0 1 0 -3.2 0M1567.30 926.12a1.6 1.6 0 1 0 3.2 0a1.6 1.6 0 1 0 -3.2 0M1567.30 939.57a1.6 1.6 0 1 0 3.2 0a1.6 1.6 0 1 0 -3.2 0M1567.30 953.02a1.6 1.6 0 1 0 3.2 0a1.6 1.6 0 1 0 -3.2 0M1567.30 966.47a1.6 1.6 0 1 0 3.2 0a1.6 1.6 0 1 0 -3.2 0M1567.30 979.92a1.6 1.6 0 1 0 3.2 0a1.6 1.6 0 1 0 -3.2 0M1567.30 993.37a1.6 1.6 0 1 0 3.2 0a1.6 1.6 0 1 0 -3.2 0M1580.70 926.12a1.6 1.6 0 1 0 3.2 0a1.6 1.6 0 1 0 -3.2 0M1580.70 939.57a1.6 1.6 0 1 0 3.2 0a1.6 1.6 0 1 0 -3.2 0M1580.70 953.02a1.6 1.6 0 1 0 3.2 0a1.6 1.6 0 1 0 -3.2 0M1580.70 966.47a1.6 1.6 0 1 0 3.2 0a1.6 1.6 0 1 0 -3.2 0M1580.70 979.92a1.6 1.6 0 1 0 3.2 0a1.6 1.6 0 1 0 -3.2 0M1580.70 993.37a1.6 1.6 0 1 0 3.2 0a1.6 1.6 0 1 0 -3.2 0M1472.30 1007.36a1.6 1.6 0 1 0 3.2 0a1.6 1.6 0 1 0 -3.2 0M1472.30 1020.81a1.6 1.6 0 1 0 3.2 0a1.6 1.6 0 1 0 -3.2 0M1472.30 1034.26a1.6 1.6 0 1 0 3.2 0a1.6 1.6 0 1 0 -3.2 0M1472.30 1047.71a1.6 1.6 0 1 0 3.2 0a1.6 1.6 0 1 0 -3.2 0M1472.30 1061.16a1.6 1.6 0 1 0 3.2 0a1.6 1.6 0 1 0 -3.2 0M1472.30 1074.61a1.6 1.6 0 1 0 3.2 0a1.6 1.6 0 1 0 -3.2 0M1486.00 1007.36a1.6 1.6 0 1 0 3.2 0a1.6 1.6 0 1 0 -3.2 0M1486.00 1020.81a1.6 1.6 0 1 0 3.2 0a1.6 1.6 0 1 0 -3.2 0M1486.00 1034.26a1.6 1.6 0 1 0 3.2 0a1.6 1.6 0 1 0 -3.2 0M1486.00 1047.71a1.6 1.6 0 1 0 3.2 0a1.6 1.6 0 1 0 -3.2 0M1486.00 1061.16a1.6 1.6 0 1 0 3.2 0a1.6 1.6 0 1 0 -3.2 0M1486.00 1074.61a1.6 1.6 0 1 0 3.2 0a1.6 1.6 0 1 0 -3.2 0M1499.40 1007.36a1.6 1.6 0 1 0 3.2 0a1.6 1.6 0 1 0 -3.2 0M1499.40 1020.81a1.6 1.6 0 1 0 3.2 0a1.6 1.6 0 1 0 -3.2 0M1499.40 1034.26a1.6 1.6 0 1 0 3.2 0a1.6 1.6 0 1 0 -3.2 0M1499.40 1047.71a1.6 1.6 0 1 0 3.2 0a1.6 1.6 0 1 0 -3.2 0M1499.40 1061.16a1.6 1.6 0 1 0 3.2 0a1.6 1.6 0 1 0 -3.2 0M1499.40 1074.61a1.6 1.6 0 1 0 3.2 0a1.6 1.6 0 1 0 -3.2 0M1512.50 1007.36a1.6 1.6 0 1 0 3.2 0a1.6 1.6 0 1 0 -3.2 0M1512.50 1020.81a1.6 1.6 0 1 0 3.2 0a1.6 1.6 0 1 0 -3.2 0M1512.50 1034.26a1.6 1.6 0 1 0 3.2 0a1.6 1.6 0 1 0 -3.2 0M1512.50 1047.71a1.6 1.6 0 1 0 3.2 0a1.6 1.6 0 1 0 -3.2 0M1512.50 1061.16a1.6 1.6 0 1 0 3.2 0a1.6 1.6 0 1 0 -3.2 0M1512.50 1074.61a1.6 1.6 0 1 0 3.2 0a1.6 1.6 0 1 0 -3.2 0M1526.20 1007.36a1.6 1.6 0 1 0 3.2 0a1.6 1.6 0 1 0 -3.2 0M1526.20 1020.81a1.6 1.6 0 1 0 3.2 0a1.6 1.6 0 1 0 -3.2 0M1526.20 1034.26a1.6 1.6 0 1 0 3.2 0a1.6 1.6 0 1 0 -3.2 0M1526.20 1047.71a1.6 1.6 0 1 0 3.2 0a1.6 1.6 0 1 0 -3.2 0M1526.20 1061.16a1.6 1.6 0 1 0 3.2 0a1.6 1.6 0 1 0 -3.2 0M1526.20 1074.61a1.6 1.6 0 1 0 3.2 0a1.6 1.6 0 1 0 -3.2 0M1539.60 1007.36a1.6 1.6 0 1 0 3.2 0a1.6 1.6 0 1 0 -3.2 0M1539.60 1020.81a1.6 1.6 0 1 0 3.2 0a1.6 1.6 0 1 0 -3.2 0M1539.60 1034.26a1.6 1.6 0 1 0 3.2 0a1.6 1.6 0 1 0 -3.2 0M1539.60 1047.71a1.6 1.6 0 1 0 3.2 0a1.6 1.6 0 1 0 -3.2 0M1539.60 1061.16a1.6 1.6 0 1 0 3.2 0a1.6 1.6 0 1 0 -3.2 0M1539.60 1074.61a1.6 1.6 0 1 0 3.2 0a1.6 1.6 0 1 0 -3.2 0M1553.60 1007.36a1.6 1.6 0 1 0 3.2 0a1.6 1.6 0 1 0 -3.2 0M1553.60 1020.81a1.6 1.6 0 1 0 3.2 0a1.6 1.6 0 1 0 -3.2 0M1553.60 1034.26a1.6 1.6 0 1 0 3.2 0a1.6 1.6 0 1 0 -3.2 0M1553.60 1047.71a1.6 1.6 0 1 0 3.2 0a1.6 1.6 0 1 0 -3.2 0M1553.60 1061.16a1.6 1.6 0 1 0 3.2 0a1.6 1.6 0 1 0 -3.2 0M1553.60 1074.61a1.6 1.6 0 1 0 3.2 0a1.6 1.6 0 1 0 -3.2 0M1567.30 1007.36a1.6 1.6 0 1 0 3.2 0a1.6 1.6 0 1 0 -3.2 0M1567.30 1020.81a1.6 1.6 0 1 0 3.2 0a1.6 1.6 0 1 0 -3.2 0M1567.30 1034.26a1.6 1.6 0 1 0 3.2 0a1.6 1.6 0 1 0 -3.2 0M1567.30 1047.71a1.6 1.6 0 1 0 3.2 0a1.6 1.6 0 1 0 -3.2 0M1567.30 1061.16a1.6 1.6 0 1 0 3.2 0a1.6 1.6 0 1 0 -3.2 0M1567.30 1074.61a1.6 1.6 0 1 0 3.2 0a1.6 1.6 0 1 0 -3.2 0M1580.70 1007.36a1.6 1.6 0 1 0 3.2 0a1.6 1.6 0 1 0 -3.2 0M1580.70 1020.81a1.6 1.6 0 1 0 3.2 0a1.6 1.6 0 1 0 -3.2 0M1580.70 1034.26a1.6 1.6 0 1 0 3.2 0a1.6 1.6 0 1 0 -3.2 0M1580.70 1047.71a1.6 1.6 0 1 0 3.2 0a1.6 1.6 0 1 0 -3.2 0M1580.70 1061.16a1.6 1.6 0 1 0 3.2 0a1.6 1.6 0 1 0 -3.2 0M1580.70 1074.61a1.6 1.6 0 1 0 3.2 0a1.6 1.6 0 1 0 -3.2 0M1472.30 1088.60a1.6 1.6 0 1 0 3.2 0a1.6 1.6 0 1 0 -3.2 0M1472.30 1102.05a1.6 1.6 0 1 0 3.2 0a1.6 1.6 0 1 0 -3.2 0M1472.30 1115.50a1.6 1.6 0 1 0 3.2 0a1.6 1.6 0 1 0 -3.2 0M1472.30 1128.95a1.6 1.6 0 1 0 3.2 0a1.6 1.6 0 1 0 -3.2 0M1472.30 1142.40a1.6 1.6 0 1 0 3.2 0a1.6 1.6 0 1 0 -3.2 0M1472.30 1155.85a1.6 1.6 0 1 0 3.2 0a1.6 1.6 0 1 0 -3.2 0M1486.00 1088.60a1.6 1.6 0 1 0 3.2 0a1.6 1.6 0 1 0 -3.2 0M1486.00 1102.05a1.6 1.6 0 1 0 3.2 0a1.6 1.6 0 1 0 -3.2 0M1486.00 1115.50a1.6 1.6 0 1 0 3.2 0a1.6 1.6 0 1 0 -3.2 0M1486.00 1128.95a1.6 1.6 0 1 0 3.2 0a1.6 1.6 0 1 0 -3.2 0M1486.00 1142.40a1.6 1.6 0 1 0 3.2 0a1.6 1.6 0 1 0 -3.2 0M1486.00 1155.85a1.6 1.6 0 1 0 3.2 0a1.6 1.6 0 1 0 -3.2 0M1499.40 1088.60a1.6 1.6 0 1 0 3.2 0a1.6 1.6 0 1 0 -3.2 0M1499.40 1102.05a1.6 1.6 0 1 0 3.2 0a1.6 1.6 0 1 0 -3.2 0M1499.40 1115.50a1.6 1.6 0 1 0 3.2 0a1.6 1.6 0 1 0 -3.2 0M1499.40 1128.95a1.6 1.6 0 1 0 3.2 0a1.6 1.6 0 1 0 -3.2 0M1499.40 1142.40a1.6 1.6 0 1 0 3.2 0a1.6 1.6 0 1 0 -3.2 0M1499.40 1155.85a1.6 1.6 0 1 0 3.2 0a1.6 1.6 0 1 0 -3.2 0M1512.50 1088.60a1.6 1.6 0 1 0 3.2 0a1.6 1.6 0 1 0 -3.2 0M1512.50 1102.05a1.6 1.6 0 1 0 3.2 0a1.6 1.6 0 1 0 -3.2 0M1512.50 1115.50a1.6 1.6 0 1 0 3.2 0a1.6 1.6 0 1 0 -3.2 0M1512.50 1128.95a1.6 1.6 0 1 0 3.2 0a1.6 1.6 0 1 0 -3.2 0M1512.50 1142.40a1.6 1.6 0 1 0 3.2 0a1.6 1.6 0 1 0 -3.2 0M1512.50 1155.85a1.6 1.6 0 1 0 3.2 0a1.6 1.6 0 1 0 -3.2 0M1526.20 1088.60a1.6 1.6 0 1 0 3.2 0a1.6 1.6 0 1 0 -3.2 0M1526.20 1102.05a1.6 1.6 0 1 0 3.2 0a1.6 1.6 0 1 0 -3.2 0M1526.20 1115.50a1.6 1.6 0 1 0 3.2 0a1.6 1.6 0 1 0 -3.2 0M1526.20 1128.95a1.6 1.6 0 1 0 3.2 0a1.6 1.6 0 1 0 -3.2 0M1526.20 1142.40a1.6 1.6 0 1 0 3.2 0a1.6 1.6 0 1 0 -3.2 0M1526.20 1155.85a1.6 1.6 0 1 0 3.2 0a1.6 1.6 0 1 0 -3.2 0M1539.60 1088.60a1.6 1.6 0 1 0 3.2 0a1.6 1.6 0 1 0 -3.2 0M1539.60 1102.05a1.6 1.6 0 1 0 3.2 0a1.6 1.6 0 1 0 -3.2 0M1539.60 1115.50a1.6 1.6 0 1 0 3.2 0a1.6 1.6 0 1 0 -3.2 0M1539.60 1128.95a1.6 1.6 0 1 0 3.2 0a1.6 1.6 0 1 0 -3.2 0M1539.60 1142.40a1.6 1.6 0 1 0 3.2 0a1.6 1.6 0 1 0 -3.2 0M1539.60 1155.85a1.6 1.6 0 1 0 3.2 0a1.6 1.6 0 1 0 -3.2 0M1553.60 1088.60a1.6 1.6 0 1 0 3.2 0a1.6 1.6 0 1 0 -3.2 0M1553.60 1102.05a1.6 1.6 0 1 0 3.2 0a1.6 1.6 0 1 0 -3.2 0M1553.60 1115.50a1.6 1.6 0 1 0 3.2 0a1.6 1.6 0 1 0 -3.2 0M1553.60 1128.95a1.6 1.6 0 1 0 3.2 0a1.6 1.6 0 1 0 -3.2 0M1553.60 1142.40a1.6 1.6 0 1 0 3.2 0a1.6 1.6 0 1 0 -3.2 0M1553.60 1155.85a1.6 1.6 0 1 0 3.2 0a1.6 1.6 0 1 0 -3.2 0M1567.30 1088.60a1.6 1.6 0 1 0 3.2 0a1.6 1.6 0 1 0 -3.2 0M1567.30 1102.05a1.6 1.6 0 1 0 3.2 0a1.6 1.6 0 1 0 -3.2 0M1567.30 1115.50a1.6 1.6 0 1 0 3.2 0a1.6 1.6 0 1 0 -3.2 0M1567.30 1128.95a1.6 1.6 0 1 0 3.2 0a1.6 1.6 0 1 0 -3.2 0M1567.30 1142.40a1.6 1.6 0 1 0 3.2 0a1.6 1.6 0 1 0 -3.2 0M1567.30 1155.85a1.6 1.6 0 1 0 3.2 0a1.6 1.6 0 1 0 -3.2 0M1580.70 1088.60a1.6 1.6 0 1 0 3.2 0a1.6 1.6 0 1 0 -3.2 0M1580.70 1102.05a1.6 1.6 0 1 0 3.2 0a1.6 1.6 0 1 0 -3.2 0M1580.70 1115.50a1.6 1.6 0 1 0 3.2 0a1.6 1.6 0 1 0 -3.2 0M1580.70 1128.95a1.6 1.6 0 1 0 3.2 0a1.6 1.6 0 1 0 -3.2 0M1580.70 1142.40a1.6 1.6 0 1 0 3.2 0a1.6 1.6 0 1 0 -3.2 0M1580.70 1155.85a1.6 1.6 0 1 0 3.2 0a1.6 1.6 0 1 0 -3.2 0M1472.30 1169.84a1.6 1.6 0 1 0 3.2 0a1.6 1.6 0 1 0 -3.2 0M1472.30 1183.29a1.6 1.6 0 1 0 3.2 0a1.6 1.6 0 1 0 -3.2 0M1472.30 1196.74a1.6 1.6 0 1 0 3.2 0a1.6 1.6 0 1 0 -3.2 0M1472.30 1210.19a1.6 1.6 0 1 0 3.2 0a1.6 1.6 0 1 0 -3.2 0M1472.30 1223.64a1.6 1.6 0 1 0 3.2 0a1.6 1.6 0 1 0 -3.2 0M1472.30 1237.09a1.6 1.6 0 1 0 3.2 0a1.6 1.6 0 1 0 -3.2 0M1486.00 1169.84a1.6 1.6 0 1 0 3.2 0a1.6 1.6 0 1 0 -3.2 0M1486.00 1183.29a1.6 1.6 0 1 0 3.2 0a1.6 1.6 0 1 0 -3.2 0M1486.00 1196.74a1.6 1.6 0 1 0 3.2 0a1.6 1.6 0 1 0 -3.2 0M1486.00 1210.19a1.6 1.6 0 1 0 3.2 0a1.6 1.6 0 1 0 -3.2 0M1486.00 1223.64a1.6 1.6 0 1 0 3.2 0a1.6 1.6 0 1 0 -3.2 0M1486.00 1237.09a1.6 1.6 0 1 0 3.2 0a1.6 1.6 0 1 0 -3.2 0M1499.40 1169.84a1.6 1.6 0 1 0 3.2 0a1.6 1.6 0 1 0 -3.2 0M1499.40 1183.29a1.6 1.6 0 1 0 3.2 0a1.6 1.6 0 1 0 -3.2 0M1499.40 1196.74a1.6 1.6 0 1 0 3.2 0a1.6 1.6 0 1 0 -3.2 0M1499.40 1210.19a1.6 1.6 0 1 0 3.2 0a1.6 1.6 0 1 0 -3.2 0M1499.40 1223.64a1.6 1.6 0 1 0 3.2 0a1.6 1.6 0 1 0 -3.2 0M1499.40 1237.09a1.6 1.6 0 1 0 3.2 0a1.6 1.6 0 1 0 -3.2 0M1512.50 1169.84a1.6 1.6 0 1 0 3.2 0a1.6 1.6 0 1 0 -3.2 0M1512.50 1183.29a1.6 1.6 0 1 0 3.2 0a1.6 1.6 0 1 0 -3.2 0M1512.50 1196.74a1.6 1.6 0 1 0 3.2 0a1.6 1.6 0 1 0 -3.2 0M1512.50 1210.19a1.6 1.6 0 1 0 3.2 0a1.6 1.6 0 1 0 -3.2 0M1512.50 1223.64a1.6 1.6 0 1 0 3.2 0a1.6 1.6 0 1 0 -3.2 0M1512.50 1237.09a1.6 1.6 0 1 0 3.2 0a1.6 1.6 0 1 0 -3.2 0M1526.20 1169.84a1.6 1.6 0 1 0 3.2 0a1.6 1.6 0 1 0 -3.2 0M1526.20 1183.29a1.6 1.6 0 1 0 3.2 0a1.6 1.6 0 1 0 -3.2 0M1526.20 1196.74a1.6 1.6 0 1 0 3.2 0a1.6 1.6 0 1 0 -3.2 0M1526.20 1210.19a1.6 1.6 0 1 0 3.2 0a1.6 1.6 0 1 0 -3.2 0M1526.20 1223.64a1.6 1.6 0 1 0 3.2 0a1.6 1.6 0 1 0 -3.2 0M1526.20 1237.09a1.6 1.6 0 1 0 3.2 0a1.6 1.6 0 1 0 -3.2 0M1539.60 1169.84a1.6 1.6 0 1 0 3.2 0a1.6 1.6 0 1 0 -3.2 0M1539.60 1183.29a1.6 1.6 0 1 0 3.2 0a1.6 1.6 0 1 0 -3.2 0M1539.60 1196.74a1.6 1.6 0 1 0 3.2 0a1.6 1.6 0 1 0 -3.2 0M1539.60 1210.19a1.6 1.6 0 1 0 3.2 0a1.6 1.6 0 1 0 -3.2 0M1539.60 1223.64a1.6 1.6 0 1 0 3.2 0a1.6 1.6 0 1 0 -3.2 0M1539.60 1237.09a1.6 1.6 0 1 0 3.2 0a1.6 1.6 0 1 0 -3.2 0M1553.60 1169.84a1.6 1.6 0 1 0 3.2 0a1.6 1.6 0 1 0 -3.2 0M1553.60 1183.29a1.6 1.6 0 1 0 3.2 0a1.6 1.6 0 1 0 -3.2 0M1553.60 1196.74a1.6 1.6 0 1 0 3.2 0a1.6 1.6 0 1 0 -3.2 0M1553.60 1210.19a1.6 1.6 0 1 0 3.2 0a1.6 1.6 0 1 0 -3.2 0M1553.60 1223.64a1.6 1.6 0 1 0 3.2 0a1.6 1.6 0 1 0 -3.2 0M1553.60 1237.09a1.6 1.6 0 1 0 3.2 0a1.6 1.6 0 1 0 -3.2 0M1567.30 1169.84a1.6 1.6 0 1 0 3.2 0a1.6 1.6 0 1 0 -3.2 0M1567.30 1183.29a1.6 1.6 0 1 0 3.2 0a1.6 1.6 0 1 0 -3.2 0M1567.30 1196.74a1.6 1.6 0 1 0 3.2 0a1.6 1.6 0 1 0 -3.2 0M1567.30 1210.19a1.6 1.6 0 1 0 3.2 0a1.6 1.6 0 1 0 -3.2 0M1567.30 1223.64a1.6 1.6 0 1 0 3.2 0a1.6 1.6 0 1 0 -3.2 0M1567.30 1237.09a1.6 1.6 0 1 0 3.2 0a1.6 1.6 0 1 0 -3.2 0M1580.70 1169.84a1.6 1.6 0 1 0 3.2 0a1.6 1.6 0 1 0 -3.2 0M1580.70 1183.29a1.6 1.6 0 1 0 3.2 0a1.6 1.6 0 1 0 -3.2 0M1580.70 1196.74a1.6 1.6 0 1 0 3.2 0a1.6 1.6 0 1 0 -3.2 0M1580.70 1210.19a1.6 1.6 0 1 0 3.2 0a1.6 1.6 0 1 0 -3.2 0M1580.70 1223.64a1.6 1.6 0 1 0 3.2 0a1.6 1.6 0 1 0 -3.2 0M1580.70 1237.09a1.6 1.6 0 1 0 3.2 0a1.6 1.6 0 1 0 -3.2 0M1472.30 1251.08a1.6 1.6 0 1 0 3.2 0a1.6 1.6 0 1 0 -3.2 0M1472.30 1264.53a1.6 1.6 0 1 0 3.2 0a1.6 1.6 0 1 0 -3.2 0M1472.30 1277.98a1.6 1.6 0 1 0 3.2 0a1.6 1.6 0 1 0 -3.2 0M1472.30 1291.43a1.6 1.6 0 1 0 3.2 0a1.6 1.6 0 1 0 -3.2 0M1472.30 1304.88a1.6 1.6 0 1 0 3.2 0a1.6 1.6 0 1 0 -3.2 0M1472.30 1318.33a1.6 1.6 0 1 0 3.2 0a1.6 1.6 0 1 0 -3.2 0M1486.00 1251.08a1.6 1.6 0 1 0 3.2 0a1.6 1.6 0 1 0 -3.2 0M1486.00 1264.53a1.6 1.6 0 1 0 3.2 0a1.6 1.6 0 1 0 -3.2 0M1486.00 1277.98a1.6 1.6 0 1 0 3.2 0a1.6 1.6 0 1 0 -3.2 0M1486.00 1291.43a1.6 1.6 0 1 0 3.2 0a1.6 1.6 0 1 0 -3.2 0M1486.00 1304.88a1.6 1.6 0 1 0 3.2 0a1.6 1.6 0 1 0 -3.2 0M1486.00 1318.33a1.6 1.6 0 1 0 3.2 0a1.6 1.6 0 1 0 -3.2 0M1499.40 1251.08a1.6 1.6 0 1 0 3.2 0a1.6 1.6 0 1 0 -3.2 0M1499.40 1264.53a1.6 1.6 0 1 0 3.2 0a1.6 1.6 0 1 0 -3.2 0M1499.40 1277.98a1.6 1.6 0 1 0 3.2 0a1.6 1.6 0 1 0 -3.2 0M1499.40 1291.43a1.6 1.6 0 1 0 3.2 0a1.6 1.6 0 1 0 -3.2 0M1499.40 1304.88a1.6 1.6 0 1 0 3.2 0a1.6 1.6 0 1 0 -3.2 0M1499.40 1318.33a1.6 1.6 0 1 0 3.2 0a1.6 1.6 0 1 0 -3.2 0M1512.50 1251.08a1.6 1.6 0 1 0 3.2 0a1.6 1.6 0 1 0 -3.2 0M1512.50 1264.53a1.6 1.6 0 1 0 3.2 0a1.6 1.6 0 1 0 -3.2 0M1512.50 1277.98a1.6 1.6 0 1 0 3.2 0a1.6 1.6 0 1 0 -3.2 0M1512.50 1291.43a1.6 1.6 0 1 0 3.2 0a1.6 1.6 0 1 0 -3.2 0M1512.50 1304.88a1.6 1.6 0 1 0 3.2 0a1.6 1.6 0 1 0 -3.2 0M1512.50 1318.33a1.6 1.6 0 1 0 3.2 0a1.6 1.6 0 1 0 -3.2 0M1526.20 1251.08a1.6 1.6 0 1 0 3.2 0a1.6 1.6 0 1 0 -3.2 0M1526.20 1264.53a1.6 1.6 0 1 0 3.2 0a1.6 1.6 0 1 0 -3.2 0M1526.20 1277.98a1.6 1.6 0 1 0 3.2 0a1.6 1.6 0 1 0 -3.2 0M1526.20 1291.43a1.6 1.6 0 1 0 3.2 0a1.6 1.6 0 1 0 -3.2 0M1526.20 1304.88a1.6 1.6 0 1 0 3.2 0a1.6 1.6 0 1 0 -3.2 0M1526.20 1318.33a1.6 1.6 0 1 0 3.2 0a1.6 1.6 0 1 0 -3.2 0M1539.60 1251.08a1.6 1.6 0 1 0 3.2 0a1.6 1.6 0 1 0 -3.2 0M1539.60 1264.53a1.6 1.6 0 1 0 3.2 0a1.6 1.6 0 1 0 -3.2 0M1539.60 1277.98a1.6 1.6 0 1 0 3.2 0a1.6 1.6 0 1 0 -3.2 0M1539.60 1291.43a1.6 1.6 0 1 0 3.2 0a1.6 1.6 0 1 0 -3.2 0M1539.60 1304.88a1.6 1.6 0 1 0 3.2 0a1.6 1.6 0 1 0 -3.2 0M1539.60 1318.33a1.6 1.6 0 1 0 3.2 0a1.6 1.6 0 1 0 -3.2 0M1553.60 1251.08a1.6 1.6 0 1 0 3.2 0a1.6 1.6 0 1 0 -3.2 0M1553.60 1264.53a1.6 1.6 0 1 0 3.2 0a1.6 1.6 0 1 0 -3.2 0M1553.60 1277.98a1.6 1.6 0 1 0 3.2 0a1.6 1.6 0 1 0 -3.2 0M1553.60 1291.43a1.6 1.6 0 1 0 3.2 0a1.6 1.6 0 1 0 -3.2 0M1553.60 1304.88a1.6 1.6 0 1 0 3.2 0a1.6 1.6 0 1 0 -3.2 0M1553.60 1318.33a1.6 1.6 0 1 0 3.2 0a1.6 1.6 0 1 0 -3.2 0M1567.30 1251.08a1.6 1.6 0 1 0 3.2 0a1.6 1.6 0 1 0 -3.2 0M1567.30 1264.53a1.6 1.6 0 1 0 3.2 0a1.6 1.6 0 1 0 -3.2 0M1567.30 1277.98a1.6 1.6 0 1 0 3.2 0a1.6 1.6 0 1 0 -3.2 0M1567.30 1291.43a1.6 1.6 0 1 0 3.2 0a1.6 1.6 0 1 0 -3.2 0M1567.30 1304.88a1.6 1.6 0 1 0 3.2 0a1.6 1.6 0 1 0 -3.2 0M1567.30 1318.33a1.6 1.6 0 1 0 3.2 0a1.6 1.6 0 1 0 -3.2 0M1580.70 1251.08a1.6 1.6 0 1 0 3.2 0a1.6 1.6 0 1 0 -3.2 0M1580.70 1264.53a1.6 1.6 0 1 0 3.2 0a1.6 1.6 0 1 0 -3.2 0M1580.70 1277.98a1.6 1.6 0 1 0 3.2 0a1.6 1.6 0 1 0 -3.2 0M1580.70 1291.43a1.6 1.6 0 1 0 3.2 0a1.6 1.6 0 1 0 -3.2 0M1580.70 1304.88a1.6 1.6 0 1 0 3.2 0a1.6 1.6 0 1 0 -3.2 0M1580.70 1318.33a1.6 1.6 0 1 0 3.2 0a1.6 1.6 0 1 0 -3.2 0M1472.30 1332.32a1.6 1.6 0 1 0 3.2 0a1.6 1.6 0 1 0 -3.2 0M1472.30 1345.77a1.6 1.6 0 1 0 3.2 0a1.6 1.6 0 1 0 -3.2 0M1472.30 1359.22a1.6 1.6 0 1 0 3.2 0a1.6 1.6 0 1 0 -3.2 0M1472.30 1372.67a1.6 1.6 0 1 0 3.2 0a1.6 1.6 0 1 0 -3.2 0M1472.30 1386.12a1.6 1.6 0 1 0 3.2 0a1.6 1.6 0 1 0 -3.2 0M1472.30 1399.57a1.6 1.6 0 1 0 3.2 0a1.6 1.6 0 1 0 -3.2 0M1486.00 1332.32a1.6 1.6 0 1 0 3.2 0a1.6 1.6 0 1 0 -3.2 0M1486.00 1345.77a1.6 1.6 0 1 0 3.2 0a1.6 1.6 0 1 0 -3.2 0M1486.00 1359.22a1.6 1.6 0 1 0 3.2 0a1.6 1.6 0 1 0 -3.2 0M1486.00 1372.67a1.6 1.6 0 1 0 3.2 0a1.6 1.6 0 1 0 -3.2 0M1486.00 1386.12a1.6 1.6 0 1 0 3.2 0a1.6 1.6 0 1 0 -3.2 0M1486.00 1399.57a1.6 1.6 0 1 0 3.2 0a1.6 1.6 0 1 0 -3.2 0M1499.40 1332.32a1.6 1.6 0 1 0 3.2 0a1.6 1.6 0 1 0 -3.2 0M1499.40 1345.77a1.6 1.6 0 1 0 3.2 0a1.6 1.6 0 1 0 -3.2 0M1499.40 1359.22a1.6 1.6 0 1 0 3.2 0a1.6 1.6 0 1 0 -3.2 0M1499.40 1372.67a1.6 1.6 0 1 0 3.2 0a1.6 1.6 0 1 0 -3.2 0M1499.40 1386.12a1.6 1.6 0 1 0 3.2 0a1.6 1.6 0 1 0 -3.2 0M1499.40 1399.57a1.6 1.6 0 1 0 3.2 0a1.6 1.6 0 1 0 -3.2 0M1512.50 1332.32a1.6 1.6 0 1 0 3.2 0a1.6 1.6 0 1 0 -3.2 0M1512.50 1345.77a1.6 1.6 0 1 0 3.2 0a1.6 1.6 0 1 0 -3.2 0M1512.50 1359.22a1.6 1.6 0 1 0 3.2 0a1.6 1.6 0 1 0 -3.2 0M1512.50 1372.67a1.6 1.6 0 1 0 3.2 0a1.6 1.6 0 1 0 -3.2 0M1512.50 1386.12a1.6 1.6 0 1 0 3.2 0a1.6 1.6 0 1 0 -3.2 0M1512.50 1399.57a1.6 1.6 0 1 0 3.2 0a1.6 1.6 0 1 0 -3.2 0M1526.20 1332.32a1.6 1.6 0 1 0 3.2 0a1.6 1.6 0 1 0 -3.2 0M1526.20 1345.77a1.6 1.6 0 1 0 3.2 0a1.6 1.6 0 1 0 -3.2 0M1526.20 1359.22a1.6 1.6 0 1 0 3.2 0a1.6 1.6 0 1 0 -3.2 0M1526.20 1372.67a1.6 1.6 0 1 0 3.2 0a1.6 1.6 0 1 0 -3.2 0M1526.20 1386.12a1.6 1.6 0 1 0 3.2 0a1.6 1.6 0 1 0 -3.2 0M1526.20 1399.57a1.6 1.6 0 1 0 3.2 0a1.6 1.6 0 1 0 -3.2 0M1539.60 1332.32a1.6 1.6 0 1 0 3.2 0a1.6 1.6 0 1 0 -3.2 0M1539.60 1345.77a1.6 1.6 0 1 0 3.2 0a1.6 1.6 0 1 0 -3.2 0M1539.60 1359.22a1.6 1.6 0 1 0 3.2 0a1.6 1.6 0 1 0 -3.2 0M1539.60 1372.67a1.6 1.6 0 1 0 3.2 0a1.6 1.6 0 1 0 -3.2 0M1539.60 1386.12a1.6 1.6 0 1 0 3.2 0a1.6 1.6 0 1 0 -3.2 0M1539.60 1399.57a1.6 1.6 0 1 0 3.2 0a1.6 1.6 0 1 0 -3.2 0M1553.60 1332.32a1.6 1.6 0 1 0 3.2 0a1.6 1.6 0 1 0 -3.2 0M1553.60 1345.77a1.6 1.6 0 1 0 3.2 0a1.6 1.6 0 1 0 -3.2 0M1553.60 1359.22a1.6 1.6 0 1 0 3.2 0a1.6 1.6 0 1 0 -3.2 0M1553.60 1372.67a1.6 1.6 0 1 0 3.2 0a1.6 1.6 0 1 0 -3.2 0M1553.60 1386.12a1.6 1.6 0 1 0 3.2 0a1.6 1.6 0 1 0 -3.2 0M1553.60 1399.57a1.6 1.6 0 1 0 3.2 0a1.6 1.6 0 1 0 -3.2 0M1567.30 1332.32a1.6 1.6 0 1 0 3.2 0a1.6 1.6 0 1 0 -3.2 0M1567.30 1345.77a1.6 1.6 0 1 0 3.2 0a1.6 1.6 0 1 0 -3.2 0M1567.30 1359.22a1.6 1.6 0 1 0 3.2 0a1.6 1.6 0 1 0 -3.2 0M1567.30 1372.67a1.6 1.6 0 1 0 3.2 0a1.6 1.6 0 1 0 -3.2 0M1567.30 1386.12a1.6 1.6 0 1 0 3.2 0a1.6 1.6 0 1 0 -3.2 0M1567.30 1399.57a1.6 1.6 0 1 0 3.2 0a1.6 1.6 0 1 0 -3.2 0M1580.70 1332.32a1.6 1.6 0 1 0 3.2 0a1.6 1.6 0 1 0 -3.2 0M1580.70 1345.77a1.6 1.6 0 1 0 3.2 0a1.6 1.6 0 1 0 -3.2 0M1580.70 1359.22a1.6 1.6 0 1 0 3.2 0a1.6 1.6 0 1 0 -3.2 0M1580.70 1372.67a1.6 1.6 0 1 0 3.2 0a1.6 1.6 0 1 0 -3.2 0M1580.70 1386.12a1.6 1.6 0 1 0 3.2 0a1.6 1.6 0 1 0 -3.2 0M1580.70 1399.57a1.6 1.6 0 1 0 3.2 0a1.6 1.6 0 1 0 -3.2 0M1472.30 1413.56a1.6 1.6 0 1 0 3.2 0a1.6 1.6 0 1 0 -3.2 0M1472.30 1427.01a1.6 1.6 0 1 0 3.2 0a1.6 1.6 0 1 0 -3.2 0M1472.30 1440.46a1.6 1.6 0 1 0 3.2 0a1.6 1.6 0 1 0 -3.2 0M1472.30 1453.91a1.6 1.6 0 1 0 3.2 0a1.6 1.6 0 1 0 -3.2 0M1472.30 1467.36a1.6 1.6 0 1 0 3.2 0a1.6 1.6 0 1 0 -3.2 0M1472.30 1480.81a1.6 1.6 0 1 0 3.2 0a1.6 1.6 0 1 0 -3.2 0M1486.00 1413.56a1.6 1.6 0 1 0 3.2 0a1.6 1.6 0 1 0 -3.2 0M1486.00 1427.01a1.6 1.6 0 1 0 3.2 0a1.6 1.6 0 1 0 -3.2 0M1486.00 1440.46a1.6 1.6 0 1 0 3.2 0a1.6 1.6 0 1 0 -3.2 0M1486.00 1453.91a1.6 1.6 0 1 0 3.2 0a1.6 1.6 0 1 0 -3.2 0M1486.00 1467.36a1.6 1.6 0 1 0 3.2 0a1.6 1.6 0 1 0 -3.2 0M1486.00 1480.81a1.6 1.6 0 1 0 3.2 0a1.6 1.6 0 1 0 -3.2 0M1499.40 1413.56a1.6 1.6 0 1 0 3.2 0a1.6 1.6 0 1 0 -3.2 0M1499.40 1427.01a1.6 1.6 0 1 0 3.2 0a1.6 1.6 0 1 0 -3.2 0M1499.40 1440.46a1.6 1.6 0 1 0 3.2 0a1.6 1.6 0 1 0 -3.2 0M1499.40 1453.91a1.6 1.6 0 1 0 3.2 0a1.6 1.6 0 1 0 -3.2 0M1499.40 1467.36a1.6 1.6 0 1 0 3.2 0a1.6 1.6 0 1 0 -3.2 0M1499.40 1480.81a1.6 1.6 0 1 0 3.2 0a1.6 1.6 0 1 0 -3.2 0M1512.50 1413.56a1.6 1.6 0 1 0 3.2 0a1.6 1.6 0 1 0 -3.2 0M1512.50 1427.01a1.6 1.6 0 1 0 3.2 0a1.6 1.6 0 1 0 -3.2 0M1512.50 1440.46a1.6 1.6 0 1 0 3.2 0a1.6 1.6 0 1 0 -3.2 0M1512.50 1453.91a1.6 1.6 0 1 0 3.2 0a1.6 1.6 0 1 0 -3.2 0M1512.50 1467.36a1.6 1.6 0 1 0 3.2 0a1.6 1.6 0 1 0 -3.2 0M1512.50 1480.81a1.6 1.6 0 1 0 3.2 0a1.6 1.6 0 1 0 -3.2 0M1526.20 1413.56a1.6 1.6 0 1 0 3.2 0a1.6 1.6 0 1 0 -3.2 0M1526.20 1427.01a1.6 1.6 0 1 0 3.2 0a1.6 1.6 0 1 0 -3.2 0M1526.20 1440.46a1.6 1.6 0 1 0 3.2 0a1.6 1.6 0 1 0 -3.2 0M1526.20 1453.91a1.6 1.6 0 1 0 3.2 0a1.6 1.6 0 1 0 -3.2 0M1526.20 1467.36a1.6 1.6 0 1 0 3.2 0a1.6 1.6 0 1 0 -3.2 0M1526.20 1480.81a1.6 1.6 0 1 0 3.2 0a1.6 1.6 0 1 0 -3.2 0M1539.60 1413.56a1.6 1.6 0 1 0 3.2 0a1.6 1.6 0 1 0 -3.2 0M1539.60 1427.01a1.6 1.6 0 1 0 3.2 0a1.6 1.6 0 1 0 -3.2 0M1539.60 1440.46a1.6 1.6 0 1 0 3.2 0a1.6 1.6 0 1 0 -3.2 0M1539.60 1453.91a1.6 1.6 0 1 0 3.2 0a1.6 1.6 0 1 0 -3.2 0M1539.60 1467.36a1.6 1.6 0 1 0 3.2 0a1.6 1.6 0 1 0 -3.2 0M1539.60 1480.81a1.6 1.6 0 1 0 3.2 0a1.6 1.6 0 1 0 -3.2 0M1553.60 1413.56a1.6 1.6 0 1 0 3.2 0a1.6 1.6 0 1 0 -3.2 0M1553.60 1427.01a1.6 1.6 0 1 0 3.2 0a1.6 1.6 0 1 0 -3.2 0M1553.60 1440.46a1.6 1.6 0 1 0 3.2 0a1.6 1.6 0 1 0 -3.2 0M1553.60 1453.91a1.6 1.6 0 1 0 3.2 0a1.6 1.6 0 1 0 -3.2 0M1553.60 1467.36a1.6 1.6 0 1 0 3.2 0a1.6 1.6 0 1 0 -3.2 0M1553.60 1480.81a1.6 1.6 0 1 0 3.2 0a1.6 1.6 0 1 0 -3.2 0M1567.30 1413.56a1.6 1.6 0 1 0 3.2 0a1.6 1.6 0 1 0 -3.2 0M1567.30 1427.01a1.6 1.6 0 1 0 3.2 0a1.6 1.6 0 1 0 -3.2 0M1567.30 1440.46a1.6 1.6 0 1 0 3.2 0a1.6 1.6 0 1 0 -3.2 0M1567.30 1453.91a1.6 1.6 0 1 0 3.2 0a1.6 1.6 0 1 0 -3.2 0M1567.30 1467.36a1.6 1.6 0 1 0 3.2 0a1.6 1.6 0 1 0 -3.2 0M1567.30 1480.81a1.6 1.6 0 1 0 3.2 0a1.6 1.6 0 1 0 -3.2 0M1580.70 1413.56a1.6 1.6 0 1 0 3.2 0a1.6 1.6 0 1 0 -3.2 0M1580.70 1427.01a1.6 1.6 0 1 0 3.2 0a1.6 1.6 0 1 0 -3.2 0M1580.70 1440.46a1.6 1.6 0 1 0 3.2 0a1.6 1.6 0 1 0 -3.2 0M1580.70 1453.91a1.6 1.6 0 1 0 3.2 0a1.6 1.6 0 1 0 -3.2 0M1580.70 1467.36a1.6 1.6 0 1 0 3.2 0a1.6 1.6 0 1 0 -3.2 0M1580.70 1480.81a1.6 1.6 0 1 0 3.2 0a1.6 1.6 0 1 0 -3.2 0" fill="#1a1818"/>
<g><rect x="1470.5" y="640.5" width="27" height="30" rx="7" fill="#1a1818"/><rect x="1474.5" y="645" width="19" height="21" rx="4" fill="none" stroke="#fff" stroke-width="1.3"/><path d="M1478 652H1490M1478 659H1490" stroke="#fff" stroke-width="1"/><path d="M1488 646L1500.5 632L1504.5 637L1494 651Z" fill="#1a1818"/></g>
<rect x="1510.5" y="643.5" width="85" height="11" fill="#e4e5ec" stroke="#1a1818" stroke-width="1.4"/><path d="M1510 643.6H1596" stroke="#8a8a8a" stroke-width="1.8"/>
<path d="M1513 649.5H1593" stroke="#4a4a70" stroke-width="5" stroke-dasharray="2.5 1.2 1.5 2 3 1.5"/>
<path d="M1484 1496.5H1504" stroke="#1a1818" stroke-width="4.5" stroke-linecap="round"/>
<rect x="1504" y="1489.5" width="41" height="13" fill="#1a1818"/>
<path d="M1506 1493H1516M1506 1497H1514M1506 1500H1518" stroke="#888" stroke-width="0.8"/>
<circle cx="1545" cy="1499" r="3" fill="#f0a040"/>
<rect x="1556" y="1493" width="30" height="24" rx="8" fill="#1a1818"/><rect x="1560" y="1497" width="22" height="16" rx="3" fill="none" stroke="#ddd" stroke-width="1.1"/><path d="M1566 1500V1510M1576 1500V1510M1566 1505H1576" stroke="#ddd" stroke-width="1"/><path d="M1548 1510L1556 1502L1562 1514L1556 1522Z" fill="#1a1818"/>
<path d="M1551 1518L1529 1545M1554 1521L1532 1548" stroke="#1a1818" stroke-width="1.1"/>
<path d="M1527 1543L1534 1551L1512 1571L1505 1563Z" fill="#1a1818"/>
<path d="M1505 1564L1511 1570L1504 1575L1500 1571Z" fill="none" stroke="#1a1818" stroke-width="1.5"/>
<path d="M1512 1581.6H1520M1516 1578V1585" stroke="#444" stroke-width="1.3"/>
<path d="M1491 1499L1460.7 1527.5V1604.5M1524 1502.5L1498 1526.5L1495.5 1533V1604M1579 1517.5L1573.6 1534V1616" fill="none" stroke="#3a3838" stroke-width="1.5"/>
<text x="1405.42" y="1583.00" font-family='"Liberation Sans", sans-serif' font-weight="normal" font-size="19.77" fill="#3c3c3c" textLength="89.92" lengthAdjust="spacingAndGlyphs" stroke="#3c3c3c" stroke-width="0.6" transform="rotate(-90 1450.70 1576.20)">BAR CODE</text>
<text x="1459.23" y="1583.50" font-family='"Liberation Sans", sans-serif' font-weight="normal" font-size="19.77" fill="#3c3c3c" textLength="53.34" lengthAdjust="spacingAndGlyphs" stroke="#3c3c3c" stroke-width="0.6" transform="rotate(-90 1486.30 1576.70)">LABEL</text>
<text x="1507.67" y="1593.50" font-family='"Liberation Sans", sans-serif' font-weight="normal" font-size="18.02" fill="#3c3c3c" textLength="112.53" lengthAdjust="spacingAndGlyphs" stroke="#3c3c3c" stroke-width="0.6" transform="rotate(-90 1563.90 1587.30)">JUNCTION BOX</text>
<rect x="1711" y="621.5" width="11" height="34.5" fill="#1a1818"/>
<rect x="1711.6" y="656" width="10" height="24.7" fill="#fff" stroke="#1a1818" stroke-width="1.2"/>
<path d="M1721.5 656V1547.3" stroke="#1a1818" stroke-width="2.2"/>
<path d="M1635 1500.7H1761.7" stroke="#1a1818" stroke-width="1.6"/>
<path d="M1720.6 1500.7L1700.4 1496.7V1504.7ZM1722.4 1500.7L1742 1496.7V1504.7Z" fill="#1a1818"/>
<rect x="1710.9" y="1513.6" width="10" height="25.4" fill="#fff" stroke="#1a1818" stroke-width="1.2"/>
<path d="M1714.6 1539V1564M1718.2 1539V1564" stroke="#1a1818" stroke-width="1"/>
<rect x="1709" y="1563.5" width="13.5" height="27.5" fill="#1a1818"/>
<rect x="1714.3" y="1591" width="4.5" height="6" fill="#fff" stroke="#1a1818" stroke-width="1"/>
<text x="1639.81" y="1531.50" font-family='"Liberation Serif", serif' font-weight="normal" font-size="34.74" fill="#3a3a3a" textLength="35.22" lengthAdjust="spacingAndGlyphs" transform="rotate(180 1658.40 1520.00)">1.4</text>
<path d="M1813.3 632.5H2008M1813.4 1531.3H2008M1824 640V1522M1870.4 632.5V1577.5M2008 632.5V1577.5M1867 1566.9H2011.2" fill="none" stroke="#4a4a4a" stroke-width="1.7"/>
<path d="M1824 629.4L1819.7 652.8H1828.3ZM1824 1532.7L1819.8 1511H1828.2ZM1870.4 1566.9L1891.8 1563.1V1570.7ZM2008 1566.9L1986.9 1563.1V1570.7Z" fill="#1a1818"/>
<text x="1781.62" y="1093.15" font-family='"Liberation Serif", serif' font-weight="normal" font-size="35.80" fill="#3a3a3a" textLength="45.44" lengthAdjust="spacingAndGlyphs" transform="rotate(-90 1804.85 1081.30)">1810</text>
<text x="1921.55" y="1598.60" font-family='"Liberation Serif", serif' font-weight="normal" font-size="35.95" fill="#3a3a3a" textLength="34.88" lengthAdjust="spacingAndGlyphs" transform="rotate(180 1939.05 1586.70)">290</text>
<text x="43.41" y="1594.30" font-family='"Liberation Sans", sans-serif' font-weight="bold" font-size="13.966480446927374" fill="#454242" textLength="9.60" lengthAdjust="spacingAndGlyphs">0</text>
<text x="43.05" y="1544.43" font-family='"Liberation Sans", sans-serif' font-weight="bold" font-size="13.966480446927374" fill="#454242" textLength="9.70" lengthAdjust="spacingAndGlyphs">1</text>
<text x="43.50" y="1494.56" font-family='"Liberation Sans", sans-serif' font-weight="bold" font-size="13.966480446927374" fill="#454242" textLength="9.50" lengthAdjust="spacingAndGlyphs">2</text>
<text x="43.69" y="1444.69" font-family='"Liberation Sans", sans-serif' font-weight="bold" font-size="13.966480446927374" fill="#454242" textLength="9.21" lengthAdjust="spacingAndGlyphs">3</text>
<text x="43.87" y="1394.82" font-family='"Liberation Sans", sans-serif' font-weight="bold" font-size="13.966480446927374" fill="#454242" textLength="8.52" lengthAdjust="spacingAndGlyphs">4</text>
<text x="43.61" y="1344.95" font-family='"Liberation Sans", sans-serif' font-weight="bold" font-size="13.966480446927374" fill="#454242" textLength="9.12" lengthAdjust="spacingAndGlyphs">5</text>
<text x="43.51" y="1295.08" font-family='"Liberation Sans", sans-serif' font-weight="bold" font-size="13.966480446927374" fill="#454242" textLength="9.40" lengthAdjust="spacingAndGlyphs">6</text>
<text x="43.41" y="1245.21" font-family='"Liberation Sans", sans-serif' font-weight="bold" font-size="13.966480446927374" fill="#454242" textLength="9.60" lengthAdjust="spacingAndGlyphs">7</text>
<text x="55.81" y="1608.50" font-family='"Liberation Sans", sans-serif' font-weight="bold" font-size="13.966480446927374" fill="#454242" textLength="9.60" lengthAdjust="spacingAndGlyphs">0</text>
<text x="150.81" y="1608.50" font-family='"Liberation Sans", sans-serif' font-weight="bold" font-size="13.966480446927374" fill="#454242" textLength="9.12" lengthAdjust="spacingAndGlyphs">5</text>
<text x="241.03" y="1608.50" font-family='"Liberation Sans", sans-serif' font-weight="bold" font-size="13.966480446927374" fill="#454242" textLength="18.06" lengthAdjust="spacingAndGlyphs">10</text>
<text x="335.84" y="1608.50" font-family='"Liberation Sans", sans-serif' font-weight="bold" font-size="13.966480446927374" fill="#454242" textLength="17.80" lengthAdjust="spacingAndGlyphs">15</text>
<text x="431.05" y="1608.50" font-family='"Liberation Sans", sans-serif' font-weight="bold" font-size="13.966480446927374" fill="#454242" textLength="17.63" lengthAdjust="spacingAndGlyphs">20</text>
<text x="525.85" y="1608.50" font-family='"Liberation Sans", sans-serif' font-weight="bold" font-size="13.966480446927374" fill="#454242" textLength="17.37" lengthAdjust="spacingAndGlyphs">25</text>
<text x="261.93" y="1624.50" font-family='"Liberation Sans", sans-serif' font-weight="bold" font-size="15" fill="#454242" textLength="71.80" lengthAdjust="spacingAndGlyphs">Voltage[V]</text>
<text x="-4.37" y="1418.50" font-family='"Liberation Sans", sans-serif' font-weight="bold" font-size="15.99" fill="#454242" textLength="71.42" lengthAdjust="spacingAndGlyphs" transform="rotate(-90 31.20 1413.00)">Current[A]</text>
<text x="71.55" y="1262.80" font-family='"Liberation Sans", sans-serif' font-weight="bold" font-size="14" fill="#454242" textLength="91.37" lengthAdjust="spacingAndGlyphs">Cells temp.=25°C</text>
<text x="152.36" y="1312.80" font-family='"Liberation Sans", sans-serif' font-weight="bold" font-size="13.5" fill="#454242" textLength="135.87" lengthAdjust="spacingAndGlyphs">Incident Irrad.=1000W/m²</text>
<text x="152.85" y="1368.80" font-family='"Liberation Sans", sans-serif' font-weight="bold" font-size="13.5" fill="#454242" textLength="130.06" lengthAdjust="spacingAndGlyphs">Incident Irrad.=800W/m²</text>
<text x="152.85" y="1422.10" font-family='"Liberation Sans", sans-serif' font-weight="bold" font-size="13.5" fill="#454242" textLength="130.06" lengthAdjust="spacingAndGlyphs">Incident Irrad.=600W/m²</text>
<text x="151.05" y="1475.90" font-family='"Liberation Sans", sans-serif' font-weight="bold" font-size="13.5" fill="#454242" textLength="129.86" lengthAdjust="spacingAndGlyphs">Incident Irrad.=400W/m²</text>
<text x="152.35" y="1525.20" font-family='"Liberation Sans", sans-serif' font-weight="bold" font-size="13.5" fill="#454242" textLength="129.86" lengthAdjust="spacingAndGlyphs">Incident Irrad.=200W/m²</text>
<text x="616.51" y="1597.40" font-family='"Liberation Sans", sans-serif' font-weight="bold" font-size="13.966480446927374" fill="#454242" textLength="9.60" lengthAdjust="spacingAndGlyphs">0</text>
<text x="616.15" y="1547.43" font-family='"Liberation Sans", sans-serif' font-weight="bold" font-size="13.966480446927374" fill="#454242" textLength="9.70" lengthAdjust="spacingAndGlyphs">1</text>
<text x="616.60" y="1497.46" font-family='"Liberation Sans", sans-serif' font-weight="bold" font-size="13.966480446927374" fill="#454242" textLength="9.50" lengthAdjust="spacingAndGlyphs">2</text>
<text x="616.79" y="1447.49" font-family='"Liberation Sans", sans-serif' font-weight="bold" font-size="13.966480446927374" fill="#454242" textLength="9.21" lengthAdjust="spacingAndGlyphs">3</text>
<text x="616.97" y="1397.52" font-family='"Liberation Sans", sans-serif' font-weight="bold" font-size="13.966480446927374" fill="#454242" textLength="8.52" lengthAdjust="spacingAndGlyphs">4</text>
<text x="616.71" y="1347.55" font-family='"Liberation Sans", sans-serif' font-weight="bold" font-size="13.966480446927374" fill="#454242" textLength="9.12" lengthAdjust="spacingAndGlyphs">5</text>
<text x="616.61" y="1297.58" font-family='"Liberation Sans", sans-serif' font-weight="bold" font-size="13.966480446927374" fill="#454242" textLength="9.40" lengthAdjust="spacingAndGlyphs">6</text>
<text x="616.51" y="1247.61" font-family='"Liberation Sans", sans-serif' font-weight="bold" font-size="13.966480446927374" fill="#454242" textLength="9.60" lengthAdjust="spacingAndGlyphs">7</text>
<text x="628.51" y="1612.40" font-family='"Liberation Sans", sans-serif' font-weight="bold" font-size="13.966480446927374" fill="#454242" textLength="9.60" lengthAdjust="spacingAndGlyphs">0</text>
<text x="724.11" y="1612.40" font-family='"Liberation Sans", sans-serif' font-weight="bold" font-size="13.966480446927374" fill="#454242" textLength="9.12" lengthAdjust="spacingAndGlyphs">5</text>
<text x="814.93" y="1612.40" font-family='"Liberation Sans", sans-serif' font-weight="bold" font-size="13.966480446927374" fill="#454242" textLength="18.06" lengthAdjust="spacingAndGlyphs">10</text>
<text x="910.34" y="1612.40" font-family='"Liberation Sans", sans-serif' font-weight="bold" font-size="13.966480446927374" fill="#454242" textLength="17.80" lengthAdjust="spacingAndGlyphs">15</text>
<text x="1006.15" y="1612.40" font-family='"Liberation Sans", sans-serif' font-weight="bold" font-size="13.966480446927374" fill="#454242" textLength="17.63" lengthAdjust="spacingAndGlyphs">20</text>
<text x="1101.55" y="1612.40" font-family='"Liberation Sans", sans-serif' font-weight="bold" font-size="13.966480446927374" fill="#454242" textLength="17.37" lengthAdjust="spacingAndGlyphs">25</text>
<text x="839.93" y="1629.00" font-family='"Liberation Sans", sans-serif' font-weight="bold" font-size="14" fill="#454242" textLength="64.10" lengthAdjust="spacingAndGlyphs">Voltage[V]</text>
<text x="575.15" y="1426.50" font-family='"Liberation Sans", sans-serif' font-weight="bold" font-size="15.99" fill="#454242" textLength="62.96" lengthAdjust="spacingAndGlyphs" transform="rotate(-90 606.50 1421.00)">Current[A]</text>
<text x="655.35" y="1439.70" font-family='"Liberation Sans", sans-serif' font-weight="bold" font-size="14" fill="#454242" textLength="154.91" lengthAdjust="spacingAndGlyphs">Incident Irrad.=1000W/m²</text>
<path d="M656.8 1472.10H690.6" stroke="#0d0b0b" stroke-width="3.2"/>
<text x="692.09" y="1477.10" font-family='"Liberation Sans", sans-serif' font-weight="bold" font-size="14" fill="#454242" textLength="104.88" lengthAdjust="spacingAndGlyphs">Cells temp.=10°C</text>
<path d="M656.8 1489.22H690.6" stroke="#e2412e" stroke-width="2.4"/>
<text x="692.09" y="1494.22" font-family='"Liberation Sans", sans-serif' font-weight="bold" font-size="14" fill="#454242" textLength="104.88" lengthAdjust="spacingAndGlyphs">Cells temp.=25°C</text>
<path d="M656.8 1506.34H690.6" stroke="#2d4fae" stroke-width="2.4"/>
<text x="692.09" y="1511.34" font-family='"Liberation Sans", sans-serif' font-weight="bold" font-size="14" fill="#454242" textLength="104.88" lengthAdjust="spacingAndGlyphs">Cells temp.=40°C</text>
<path d="M656.8 1523.46H690.6" stroke="#9a52b0" stroke-width="2.4"/>
<text x="692.09" y="1528.46" font-family='"Liberation Sans", sans-serif' font-weight="bold" font-size="14" fill="#454242" textLength="104.88" lengthAdjust="spacingAndGlyphs">Cells temp.=55°C</text>
<path d="M656.8 1540.58H690.6" stroke="#3b7b45" stroke-width="2.4"/>
<text x="692.09" y="1545.58" font-family='"Liberation Sans", sans-serif' font-weight="bold" font-size="14" fill="#454242" textLength="104.88" lengthAdjust="spacingAndGlyphs">Cells temp.=70°C</text>
</svg>
</body></html>
